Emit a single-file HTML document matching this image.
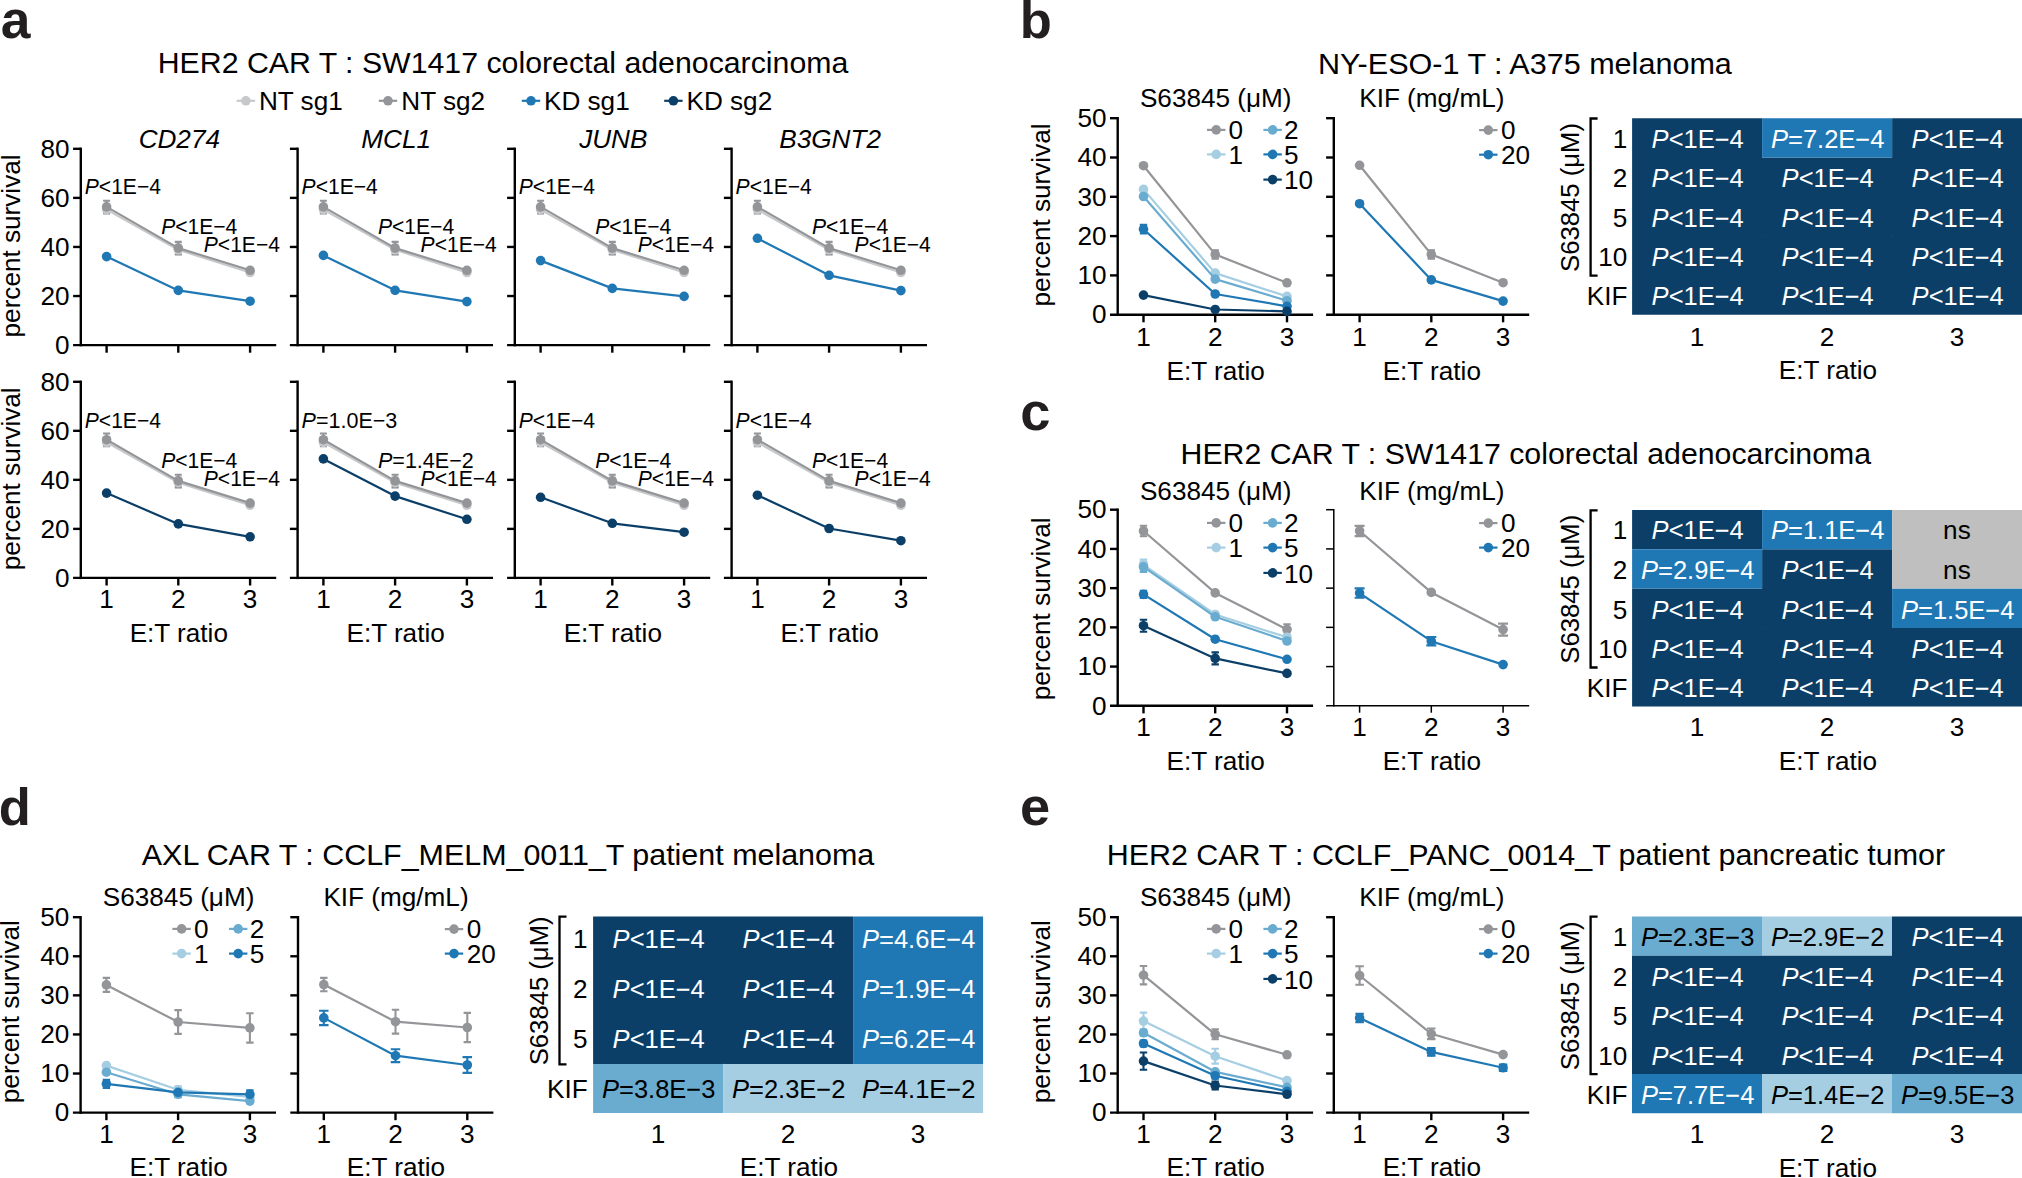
<!DOCTYPE html>
<html lang="en">
<head>
<meta charset="utf-8">
<title>Figure</title>
<style>
html,body{margin:0;padding:0;background:#fff;}
body{width:2022px;height:1178px;overflow:hidden;}
svg{display:block;}
text{font-family:"Liberation Sans",sans-serif;}
</style>
</head>
<body>
<svg width="2022" height="1178" viewBox="0 0 2022 1178" font-family="Liberation Sans, sans-serif" fill="#000">
<rect width="2022" height="1178" fill="#fff"/>
<text transform="translate(0.80 37.50)" font-size="53.4" fill="#231f20" font-weight="bold">a</text>
<text transform="translate(1019.80 37.50)" font-size="52.5" fill="#231f20" font-weight="bold">b</text>
<text transform="translate(1020.30 430.20)" font-size="54.3" fill="#231f20" font-weight="bold">c</text>
<text transform="translate(-1.30 824.60)" font-size="52.5" fill="#231f20" font-weight="bold">d</text>
<text transform="translate(1019.90 824.70)" font-size="54.3" fill="#231f20" font-weight="bold">e</text>
<text transform="translate(503.00 73.40) scale(1.02 1)" font-size="29.7" text-anchor="middle">HER2 CAR T : SW1417 colorectal adenocarcinoma</text>
<line x1="236.70" y1="100.80" x2="255.10" y2="100.80" stroke="#c7c8ca" stroke-width="2.2"/>
<circle cx="245.90" cy="100.80" r="4.8" fill="#c7c8ca"/>
<text transform="translate(259.00 109.60) scale(1.025 1)" font-size="25.5">NT sg1</text>
<line x1="378.80" y1="100.80" x2="397.20" y2="100.80" stroke="#939598" stroke-width="2.2"/>
<circle cx="388.00" cy="100.80" r="4.8" fill="#939598"/>
<text transform="translate(401.30 109.60) scale(1.025 1)" font-size="25.5">NT sg2</text>
<line x1="521.80" y1="100.80" x2="540.20" y2="100.80" stroke="#1f78b4" stroke-width="2.2"/>
<circle cx="531.00" cy="100.80" r="4.8" fill="#1f78b4"/>
<text transform="translate(544.00 109.60) scale(1.025 1)" font-size="25.5">KD sg1</text>
<line x1="664.20" y1="100.80" x2="682.60" y2="100.80" stroke="#0b3f68" stroke-width="2.2"/>
<circle cx="673.40" cy="100.80" r="4.8" fill="#0b3f68"/>
<text transform="translate(686.50 109.60) scale(1.025 1)" font-size="25.5">KD sg2</text>
<line x1="80.80" y1="147.60" x2="80.80" y2="346.30" stroke="#000" stroke-width="2.4"/>
<line x1="73.10" y1="345.10" x2="276.20" y2="345.10" stroke="#000" stroke-width="2.4"/>
<line x1="73.10" y1="148.80" x2="80.80" y2="148.80" stroke="#000" stroke-width="2.4"/>
<line x1="73.10" y1="197.88" x2="80.80" y2="197.88" stroke="#000" stroke-width="2.4"/>
<line x1="73.10" y1="246.95" x2="80.80" y2="246.95" stroke="#000" stroke-width="2.4"/>
<line x1="73.10" y1="296.03" x2="80.80" y2="296.03" stroke="#000" stroke-width="2.4"/>
<line x1="106.60" y1="345.10" x2="106.60" y2="352.70" stroke="#000" stroke-width="2.4"/>
<line x1="178.30" y1="345.10" x2="178.30" y2="352.70" stroke="#000" stroke-width="2.4"/>
<line x1="250.10" y1="345.10" x2="250.10" y2="352.70" stroke="#000" stroke-width="2.4"/>
<text transform="translate(69.60 157.50) scale(1.025 1)" font-size="25.5" text-anchor="end">80</text>
<text transform="translate(69.60 206.57) scale(1.025 1)" font-size="25.5" text-anchor="end">60</text>
<text transform="translate(69.60 255.65) scale(1.025 1)" font-size="25.5" text-anchor="end">40</text>
<text transform="translate(69.60 304.73) scale(1.025 1)" font-size="25.5" text-anchor="end">20</text>
<text transform="translate(69.60 353.80) scale(1.025 1)" font-size="25.5" text-anchor="end">0</text>
<path d="M103.10 205.60H110.10M106.60 205.60V213.60M103.10 213.60H110.10" fill="none" stroke="#c7c8ca" stroke-width="2.1"/>
<path d="M174.80 244.80H181.80M178.30 244.80V254.80M174.80 254.80H181.80" fill="none" stroke="#c7c8ca" stroke-width="2.1"/>
<path d="M103.10 200.70H110.10M106.60 200.70V213.10M103.10 213.10H110.10" fill="none" stroke="#939598" stroke-width="2.1"/>
<path d="M174.80 241.90H181.80M178.30 241.90V254.30M174.80 254.30H181.80" fill="none" stroke="#939598" stroke-width="2.1"/>
<polyline points="106.60,209.60 178.30,249.80 250.10,272.50" fill="none" stroke="#c7c8ca" stroke-width="2.2" stroke-linejoin="round"/>
<circle cx="106.60" cy="209.60" r="4.8" fill="#c7c8ca"/>
<circle cx="178.30" cy="249.80" r="4.8" fill="#c7c8ca"/>
<circle cx="250.10" cy="272.50" r="4.8" fill="#c7c8ca"/>
<polyline points="106.60,206.90 178.30,248.10 250.10,270.30" fill="none" stroke="#939598" stroke-width="2.2" stroke-linejoin="round"/>
<circle cx="106.60" cy="206.90" r="4.8" fill="#939598"/>
<circle cx="178.30" cy="248.10" r="4.8" fill="#939598"/>
<circle cx="250.10" cy="270.30" r="4.8" fill="#939598"/>
<polyline points="106.60,256.60 178.30,290.40 250.10,301.20" fill="none" stroke="#1f78b4" stroke-width="2.2" stroke-linejoin="round"/>
<circle cx="106.60" cy="256.60" r="4.8" fill="#1f78b4"/>
<circle cx="178.30" cy="290.40" r="4.8" fill="#1f78b4"/>
<circle cx="250.10" cy="301.20" r="4.8" fill="#1f78b4"/>
<text transform="translate(84.80 194.00) scale(0.98 1)" font-size="21.5"><tspan font-style="italic">P</tspan>&lt;1E−4</text>
<text transform="translate(161.20 233.80) scale(0.98 1)" font-size="21.5"><tspan font-style="italic">P</tspan>&lt;1E−4</text>
<text transform="translate(203.80 252.00) scale(0.98 1)" font-size="21.5"><tspan font-style="italic">P</tspan>&lt;1E−4</text>
<text transform="translate(179.30 148.00) scale(1.025 1)" font-size="25.5" text-anchor="middle" font-style="italic">CD274</text>
<line x1="297.60" y1="147.60" x2="297.60" y2="346.30" stroke="#000" stroke-width="2.4"/>
<line x1="289.90" y1="345.10" x2="493.00" y2="345.10" stroke="#000" stroke-width="2.4"/>
<line x1="289.90" y1="148.80" x2="297.60" y2="148.80" stroke="#000" stroke-width="2.4"/>
<line x1="289.90" y1="197.88" x2="297.60" y2="197.88" stroke="#000" stroke-width="2.4"/>
<line x1="289.90" y1="246.95" x2="297.60" y2="246.95" stroke="#000" stroke-width="2.4"/>
<line x1="289.90" y1="296.03" x2="297.60" y2="296.03" stroke="#000" stroke-width="2.4"/>
<line x1="323.40" y1="345.10" x2="323.40" y2="352.70" stroke="#000" stroke-width="2.4"/>
<line x1="395.10" y1="345.10" x2="395.10" y2="352.70" stroke="#000" stroke-width="2.4"/>
<line x1="466.90" y1="345.10" x2="466.90" y2="352.70" stroke="#000" stroke-width="2.4"/>
<path d="M319.90 205.60H326.90M323.40 205.60V213.60M319.90 213.60H326.90" fill="none" stroke="#c7c8ca" stroke-width="2.1"/>
<path d="M391.60 244.80H398.60M395.10 244.80V254.80M391.60 254.80H398.60" fill="none" stroke="#c7c8ca" stroke-width="2.1"/>
<path d="M319.90 200.70H326.90M323.40 200.70V213.10M319.90 213.10H326.90" fill="none" stroke="#939598" stroke-width="2.1"/>
<path d="M391.60 241.90H398.60M395.10 241.90V254.30M391.60 254.30H398.60" fill="none" stroke="#939598" stroke-width="2.1"/>
<polyline points="323.40,209.60 395.10,249.80 466.90,272.50" fill="none" stroke="#c7c8ca" stroke-width="2.2" stroke-linejoin="round"/>
<circle cx="323.40" cy="209.60" r="4.8" fill="#c7c8ca"/>
<circle cx="395.10" cy="249.80" r="4.8" fill="#c7c8ca"/>
<circle cx="466.90" cy="272.50" r="4.8" fill="#c7c8ca"/>
<polyline points="323.40,206.90 395.10,248.10 466.90,270.30" fill="none" stroke="#939598" stroke-width="2.2" stroke-linejoin="round"/>
<circle cx="323.40" cy="206.90" r="4.8" fill="#939598"/>
<circle cx="395.10" cy="248.10" r="4.8" fill="#939598"/>
<circle cx="466.90" cy="270.30" r="4.8" fill="#939598"/>
<polyline points="323.40,255.40 395.10,290.30 466.90,301.60" fill="none" stroke="#1f78b4" stroke-width="2.2" stroke-linejoin="round"/>
<circle cx="323.40" cy="255.40" r="4.8" fill="#1f78b4"/>
<circle cx="395.10" cy="290.30" r="4.8" fill="#1f78b4"/>
<circle cx="466.90" cy="301.60" r="4.8" fill="#1f78b4"/>
<text transform="translate(301.60 194.00) scale(0.98 1)" font-size="21.5"><tspan font-style="italic">P</tspan>&lt;1E−4</text>
<text transform="translate(378.00 233.80) scale(0.98 1)" font-size="21.5"><tspan font-style="italic">P</tspan>&lt;1E−4</text>
<text transform="translate(420.60 252.00) scale(0.98 1)" font-size="21.5"><tspan font-style="italic">P</tspan>&lt;1E−4</text>
<text transform="translate(396.10 148.00) scale(1.025 1)" font-size="25.5" text-anchor="middle" font-style="italic">MCL1</text>
<line x1="514.80" y1="147.60" x2="514.80" y2="346.30" stroke="#000" stroke-width="2.4"/>
<line x1="507.10" y1="345.10" x2="710.20" y2="345.10" stroke="#000" stroke-width="2.4"/>
<line x1="507.10" y1="148.80" x2="514.80" y2="148.80" stroke="#000" stroke-width="2.4"/>
<line x1="507.10" y1="197.88" x2="514.80" y2="197.88" stroke="#000" stroke-width="2.4"/>
<line x1="507.10" y1="246.95" x2="514.80" y2="246.95" stroke="#000" stroke-width="2.4"/>
<line x1="507.10" y1="296.03" x2="514.80" y2="296.03" stroke="#000" stroke-width="2.4"/>
<line x1="540.60" y1="345.10" x2="540.60" y2="352.70" stroke="#000" stroke-width="2.4"/>
<line x1="612.30" y1="345.10" x2="612.30" y2="352.70" stroke="#000" stroke-width="2.4"/>
<line x1="684.10" y1="345.10" x2="684.10" y2="352.70" stroke="#000" stroke-width="2.4"/>
<path d="M537.10 205.60H544.10M540.60 205.60V213.60M537.10 213.60H544.10" fill="none" stroke="#c7c8ca" stroke-width="2.1"/>
<path d="M608.80 244.80H615.80M612.30 244.80V254.80M608.80 254.80H615.80" fill="none" stroke="#c7c8ca" stroke-width="2.1"/>
<path d="M537.10 200.70H544.10M540.60 200.70V213.10M537.10 213.10H544.10" fill="none" stroke="#939598" stroke-width="2.1"/>
<path d="M608.80 241.90H615.80M612.30 241.90V254.30M608.80 254.30H615.80" fill="none" stroke="#939598" stroke-width="2.1"/>
<polyline points="540.60,209.60 612.30,249.80 684.10,272.50" fill="none" stroke="#c7c8ca" stroke-width="2.2" stroke-linejoin="round"/>
<circle cx="540.60" cy="209.60" r="4.8" fill="#c7c8ca"/>
<circle cx="612.30" cy="249.80" r="4.8" fill="#c7c8ca"/>
<circle cx="684.10" cy="272.50" r="4.8" fill="#c7c8ca"/>
<polyline points="540.60,206.90 612.30,248.10 684.10,270.30" fill="none" stroke="#939598" stroke-width="2.2" stroke-linejoin="round"/>
<circle cx="540.60" cy="206.90" r="4.8" fill="#939598"/>
<circle cx="612.30" cy="248.10" r="4.8" fill="#939598"/>
<circle cx="684.10" cy="270.30" r="4.8" fill="#939598"/>
<polyline points="540.60,260.60 612.30,288.40 684.10,296.40" fill="none" stroke="#1f78b4" stroke-width="2.2" stroke-linejoin="round"/>
<circle cx="540.60" cy="260.60" r="4.8" fill="#1f78b4"/>
<circle cx="612.30" cy="288.40" r="4.8" fill="#1f78b4"/>
<circle cx="684.10" cy="296.40" r="4.8" fill="#1f78b4"/>
<text transform="translate(518.80 194.00) scale(0.98 1)" font-size="21.5"><tspan font-style="italic">P</tspan>&lt;1E−4</text>
<text transform="translate(595.20 233.80) scale(0.98 1)" font-size="21.5"><tspan font-style="italic">P</tspan>&lt;1E−4</text>
<text transform="translate(637.80 252.00) scale(0.98 1)" font-size="21.5"><tspan font-style="italic">P</tspan>&lt;1E−4</text>
<text transform="translate(613.30 148.00) scale(1.025 1)" font-size="25.5" text-anchor="middle" font-style="italic">JUNB</text>
<line x1="731.60" y1="147.60" x2="731.60" y2="346.30" stroke="#000" stroke-width="2.4"/>
<line x1="723.90" y1="345.10" x2="927.00" y2="345.10" stroke="#000" stroke-width="2.4"/>
<line x1="723.90" y1="148.80" x2="731.60" y2="148.80" stroke="#000" stroke-width="2.4"/>
<line x1="723.90" y1="197.88" x2="731.60" y2="197.88" stroke="#000" stroke-width="2.4"/>
<line x1="723.90" y1="246.95" x2="731.60" y2="246.95" stroke="#000" stroke-width="2.4"/>
<line x1="723.90" y1="296.03" x2="731.60" y2="296.03" stroke="#000" stroke-width="2.4"/>
<line x1="757.40" y1="345.10" x2="757.40" y2="352.70" stroke="#000" stroke-width="2.4"/>
<line x1="829.10" y1="345.10" x2="829.10" y2="352.70" stroke="#000" stroke-width="2.4"/>
<line x1="900.90" y1="345.10" x2="900.90" y2="352.70" stroke="#000" stroke-width="2.4"/>
<path d="M753.90 205.60H760.90M757.40 205.60V213.60M753.90 213.60H760.90" fill="none" stroke="#c7c8ca" stroke-width="2.1"/>
<path d="M825.60 244.80H832.60M829.10 244.80V254.80M825.60 254.80H832.60" fill="none" stroke="#c7c8ca" stroke-width="2.1"/>
<path d="M753.90 200.70H760.90M757.40 200.70V213.10M753.90 213.10H760.90" fill="none" stroke="#939598" stroke-width="2.1"/>
<path d="M825.60 241.90H832.60M829.10 241.90V254.30M825.60 254.30H832.60" fill="none" stroke="#939598" stroke-width="2.1"/>
<polyline points="757.40,209.60 829.10,249.80 900.90,272.50" fill="none" stroke="#c7c8ca" stroke-width="2.2" stroke-linejoin="round"/>
<circle cx="757.40" cy="209.60" r="4.8" fill="#c7c8ca"/>
<circle cx="829.10" cy="249.80" r="4.8" fill="#c7c8ca"/>
<circle cx="900.90" cy="272.50" r="4.8" fill="#c7c8ca"/>
<polyline points="757.40,206.90 829.10,248.10 900.90,270.30" fill="none" stroke="#939598" stroke-width="2.2" stroke-linejoin="round"/>
<circle cx="757.40" cy="206.90" r="4.8" fill="#939598"/>
<circle cx="829.10" cy="248.10" r="4.8" fill="#939598"/>
<circle cx="900.90" cy="270.30" r="4.8" fill="#939598"/>
<polyline points="757.40,238.30 829.10,275.30 900.90,290.60" fill="none" stroke="#1f78b4" stroke-width="2.2" stroke-linejoin="round"/>
<circle cx="757.40" cy="238.30" r="4.8" fill="#1f78b4"/>
<circle cx="829.10" cy="275.30" r="4.8" fill="#1f78b4"/>
<circle cx="900.90" cy="290.60" r="4.8" fill="#1f78b4"/>
<text transform="translate(735.60 194.00) scale(0.98 1)" font-size="21.5"><tspan font-style="italic">P</tspan>&lt;1E−4</text>
<text transform="translate(812.00 233.80) scale(0.98 1)" font-size="21.5"><tspan font-style="italic">P</tspan>&lt;1E−4</text>
<text transform="translate(854.60 252.00) scale(0.98 1)" font-size="21.5"><tspan font-style="italic">P</tspan>&lt;1E−4</text>
<text transform="translate(830.10 148.00) scale(1.025 1)" font-size="25.5" text-anchor="middle" font-style="italic">B3GNT2</text>
<text transform="translate(20.00 245.95) rotate(-90) scale(1.025 1)" font-size="25.5" text-anchor="middle">percent survival</text>
<line x1="80.80" y1="380.60" x2="80.80" y2="579.10" stroke="#000" stroke-width="2.4"/>
<line x1="73.10" y1="577.90" x2="276.20" y2="577.90" stroke="#000" stroke-width="2.4"/>
<line x1="73.10" y1="381.80" x2="80.80" y2="381.80" stroke="#000" stroke-width="2.4"/>
<line x1="73.10" y1="430.82" x2="80.80" y2="430.82" stroke="#000" stroke-width="2.4"/>
<line x1="73.10" y1="479.85" x2="80.80" y2="479.85" stroke="#000" stroke-width="2.4"/>
<line x1="73.10" y1="528.88" x2="80.80" y2="528.88" stroke="#000" stroke-width="2.4"/>
<line x1="106.60" y1="577.90" x2="106.60" y2="585.50" stroke="#000" stroke-width="2.4"/>
<line x1="178.30" y1="577.90" x2="178.30" y2="585.50" stroke="#000" stroke-width="2.4"/>
<line x1="250.10" y1="577.90" x2="250.10" y2="585.50" stroke="#000" stroke-width="2.4"/>
<text transform="translate(69.60 390.50) scale(1.025 1)" font-size="25.5" text-anchor="end">80</text>
<text transform="translate(69.60 439.52) scale(1.025 1)" font-size="25.5" text-anchor="end">60</text>
<text transform="translate(69.60 488.55) scale(1.025 1)" font-size="25.5" text-anchor="end">40</text>
<text transform="translate(69.60 537.58) scale(1.025 1)" font-size="25.5" text-anchor="end">20</text>
<text transform="translate(69.60 586.60) scale(1.025 1)" font-size="25.5" text-anchor="end">0</text>
<text transform="translate(106.60 608.10) scale(1.025 1)" font-size="25.5" text-anchor="middle">1</text>
<text transform="translate(178.30 608.10) scale(1.025 1)" font-size="25.5" text-anchor="middle">2</text>
<text transform="translate(250.10 608.10) scale(1.025 1)" font-size="25.5" text-anchor="middle">3</text>
<path d="M103.10 438.40H110.10M106.60 438.40V446.40M103.10 446.40H110.10" fill="none" stroke="#c7c8ca" stroke-width="2.1"/>
<path d="M174.80 477.60H181.80M178.30 477.60V487.60M174.80 487.60H181.80" fill="none" stroke="#c7c8ca" stroke-width="2.1"/>
<path d="M103.10 433.50H110.10M106.60 433.50V445.90M103.10 445.90H110.10" fill="none" stroke="#939598" stroke-width="2.1"/>
<path d="M174.80 474.70H181.80M178.30 474.70V487.10M174.80 487.10H181.80" fill="none" stroke="#939598" stroke-width="2.1"/>
<polyline points="106.60,442.40 178.30,482.60 250.10,505.30" fill="none" stroke="#c7c8ca" stroke-width="2.2" stroke-linejoin="round"/>
<circle cx="106.60" cy="442.40" r="4.8" fill="#c7c8ca"/>
<circle cx="178.30" cy="482.60" r="4.8" fill="#c7c8ca"/>
<circle cx="250.10" cy="505.30" r="4.8" fill="#c7c8ca"/>
<polyline points="106.60,439.70 178.30,480.90 250.10,503.10" fill="none" stroke="#939598" stroke-width="2.2" stroke-linejoin="round"/>
<circle cx="106.60" cy="439.70" r="4.8" fill="#939598"/>
<circle cx="178.30" cy="480.90" r="4.8" fill="#939598"/>
<circle cx="250.10" cy="503.10" r="4.8" fill="#939598"/>
<polyline points="106.60,493.10 178.30,523.90 250.10,536.80" fill="none" stroke="#0b3f68" stroke-width="2.2" stroke-linejoin="round"/>
<circle cx="106.60" cy="493.10" r="4.8" fill="#0b3f68"/>
<circle cx="178.30" cy="523.90" r="4.8" fill="#0b3f68"/>
<circle cx="250.10" cy="536.80" r="4.8" fill="#0b3f68"/>
<text transform="translate(84.80 427.70) scale(0.98 1)" font-size="21.5"><tspan font-style="italic">P</tspan>&lt;1E−4</text>
<text transform="translate(161.20 467.50) scale(0.98 1)" font-size="21.5"><tspan font-style="italic">P</tspan>&lt;1E−4</text>
<text transform="translate(203.80 485.70) scale(0.98 1)" font-size="21.5"><tspan font-style="italic">P</tspan>&lt;1E−4</text>
<text transform="translate(178.80 641.80) scale(1.025 1)" font-size="25.5" text-anchor="middle">E:T ratio</text>
<line x1="297.60" y1="380.60" x2="297.60" y2="579.10" stroke="#000" stroke-width="2.4"/>
<line x1="289.90" y1="577.90" x2="493.00" y2="577.90" stroke="#000" stroke-width="2.4"/>
<line x1="289.90" y1="381.80" x2="297.60" y2="381.80" stroke="#000" stroke-width="2.4"/>
<line x1="289.90" y1="430.82" x2="297.60" y2="430.82" stroke="#000" stroke-width="2.4"/>
<line x1="289.90" y1="479.85" x2="297.60" y2="479.85" stroke="#000" stroke-width="2.4"/>
<line x1="289.90" y1="528.88" x2="297.60" y2="528.88" stroke="#000" stroke-width="2.4"/>
<line x1="323.40" y1="577.90" x2="323.40" y2="585.50" stroke="#000" stroke-width="2.4"/>
<line x1="395.10" y1="577.90" x2="395.10" y2="585.50" stroke="#000" stroke-width="2.4"/>
<line x1="466.90" y1="577.90" x2="466.90" y2="585.50" stroke="#000" stroke-width="2.4"/>
<text transform="translate(323.40 608.10) scale(1.025 1)" font-size="25.5" text-anchor="middle">1</text>
<text transform="translate(395.10 608.10) scale(1.025 1)" font-size="25.5" text-anchor="middle">2</text>
<text transform="translate(466.90 608.10) scale(1.025 1)" font-size="25.5" text-anchor="middle">3</text>
<path d="M319.90 438.40H326.90M323.40 438.40V446.40M319.90 446.40H326.90" fill="none" stroke="#c7c8ca" stroke-width="2.1"/>
<path d="M391.60 477.60H398.60M395.10 477.60V487.60M391.60 487.60H398.60" fill="none" stroke="#c7c8ca" stroke-width="2.1"/>
<path d="M319.90 433.50H326.90M323.40 433.50V445.90M319.90 445.90H326.90" fill="none" stroke="#939598" stroke-width="2.1"/>
<path d="M391.60 474.70H398.60M395.10 474.70V487.10M391.60 487.10H398.60" fill="none" stroke="#939598" stroke-width="2.1"/>
<polyline points="323.40,442.40 395.10,482.60 466.90,505.30" fill="none" stroke="#c7c8ca" stroke-width="2.2" stroke-linejoin="round"/>
<circle cx="323.40" cy="442.40" r="4.8" fill="#c7c8ca"/>
<circle cx="395.10" cy="482.60" r="4.8" fill="#c7c8ca"/>
<circle cx="466.90" cy="505.30" r="4.8" fill="#c7c8ca"/>
<polyline points="323.40,439.70 395.10,480.90 466.90,503.10" fill="none" stroke="#939598" stroke-width="2.2" stroke-linejoin="round"/>
<circle cx="323.40" cy="439.70" r="4.8" fill="#939598"/>
<circle cx="395.10" cy="480.90" r="4.8" fill="#939598"/>
<circle cx="466.90" cy="503.10" r="4.8" fill="#939598"/>
<polyline points="323.40,458.90 395.10,496.10 466.90,519.30" fill="none" stroke="#0b3f68" stroke-width="2.2" stroke-linejoin="round"/>
<circle cx="323.40" cy="458.90" r="4.8" fill="#0b3f68"/>
<circle cx="395.10" cy="496.10" r="4.8" fill="#0b3f68"/>
<circle cx="466.90" cy="519.30" r="4.8" fill="#0b3f68"/>
<text transform="translate(301.60 427.70)" font-size="21.5"><tspan font-style="italic">P</tspan>=1.0E−3</text>
<text transform="translate(378.00 467.50)" font-size="21.5"><tspan font-style="italic">P</tspan>=1.4E−2</text>
<text transform="translate(420.60 485.70) scale(0.98 1)" font-size="21.5"><tspan font-style="italic">P</tspan>&lt;1E−4</text>
<text transform="translate(395.60 641.80) scale(1.025 1)" font-size="25.5" text-anchor="middle">E:T ratio</text>
<line x1="514.80" y1="380.60" x2="514.80" y2="579.10" stroke="#000" stroke-width="2.4"/>
<line x1="507.10" y1="577.90" x2="710.20" y2="577.90" stroke="#000" stroke-width="2.4"/>
<line x1="507.10" y1="381.80" x2="514.80" y2="381.80" stroke="#000" stroke-width="2.4"/>
<line x1="507.10" y1="430.82" x2="514.80" y2="430.82" stroke="#000" stroke-width="2.4"/>
<line x1="507.10" y1="479.85" x2="514.80" y2="479.85" stroke="#000" stroke-width="2.4"/>
<line x1="507.10" y1="528.88" x2="514.80" y2="528.88" stroke="#000" stroke-width="2.4"/>
<line x1="540.60" y1="577.90" x2="540.60" y2="585.50" stroke="#000" stroke-width="2.4"/>
<line x1="612.30" y1="577.90" x2="612.30" y2="585.50" stroke="#000" stroke-width="2.4"/>
<line x1="684.10" y1="577.90" x2="684.10" y2="585.50" stroke="#000" stroke-width="2.4"/>
<text transform="translate(540.60 608.10) scale(1.025 1)" font-size="25.5" text-anchor="middle">1</text>
<text transform="translate(612.30 608.10) scale(1.025 1)" font-size="25.5" text-anchor="middle">2</text>
<text transform="translate(684.10 608.10) scale(1.025 1)" font-size="25.5" text-anchor="middle">3</text>
<path d="M537.10 438.40H544.10M540.60 438.40V446.40M537.10 446.40H544.10" fill="none" stroke="#c7c8ca" stroke-width="2.1"/>
<path d="M608.80 477.60H615.80M612.30 477.60V487.60M608.80 487.60H615.80" fill="none" stroke="#c7c8ca" stroke-width="2.1"/>
<path d="M537.10 433.50H544.10M540.60 433.50V445.90M537.10 445.90H544.10" fill="none" stroke="#939598" stroke-width="2.1"/>
<path d="M608.80 474.70H615.80M612.30 474.70V487.10M608.80 487.10H615.80" fill="none" stroke="#939598" stroke-width="2.1"/>
<polyline points="540.60,442.40 612.30,482.60 684.10,505.30" fill="none" stroke="#c7c8ca" stroke-width="2.2" stroke-linejoin="round"/>
<circle cx="540.60" cy="442.40" r="4.8" fill="#c7c8ca"/>
<circle cx="612.30" cy="482.60" r="4.8" fill="#c7c8ca"/>
<circle cx="684.10" cy="505.30" r="4.8" fill="#c7c8ca"/>
<polyline points="540.60,439.70 612.30,480.90 684.10,503.10" fill="none" stroke="#939598" stroke-width="2.2" stroke-linejoin="round"/>
<circle cx="540.60" cy="439.70" r="4.8" fill="#939598"/>
<circle cx="612.30" cy="480.90" r="4.8" fill="#939598"/>
<circle cx="684.10" cy="503.10" r="4.8" fill="#939598"/>
<polyline points="540.60,497.30 612.30,523.30 684.10,532.20" fill="none" stroke="#0b3f68" stroke-width="2.2" stroke-linejoin="round"/>
<circle cx="540.60" cy="497.30" r="4.8" fill="#0b3f68"/>
<circle cx="612.30" cy="523.30" r="4.8" fill="#0b3f68"/>
<circle cx="684.10" cy="532.20" r="4.8" fill="#0b3f68"/>
<text transform="translate(518.80 427.70) scale(0.98 1)" font-size="21.5"><tspan font-style="italic">P</tspan>&lt;1E−4</text>
<text transform="translate(595.20 467.50) scale(0.98 1)" font-size="21.5"><tspan font-style="italic">P</tspan>&lt;1E−4</text>
<text transform="translate(637.80 485.70) scale(0.98 1)" font-size="21.5"><tspan font-style="italic">P</tspan>&lt;1E−4</text>
<text transform="translate(612.80 641.80) scale(1.025 1)" font-size="25.5" text-anchor="middle">E:T ratio</text>
<line x1="731.60" y1="380.60" x2="731.60" y2="579.10" stroke="#000" stroke-width="2.4"/>
<line x1="723.90" y1="577.90" x2="927.00" y2="577.90" stroke="#000" stroke-width="2.4"/>
<line x1="723.90" y1="381.80" x2="731.60" y2="381.80" stroke="#000" stroke-width="2.4"/>
<line x1="723.90" y1="430.82" x2="731.60" y2="430.82" stroke="#000" stroke-width="2.4"/>
<line x1="723.90" y1="479.85" x2="731.60" y2="479.85" stroke="#000" stroke-width="2.4"/>
<line x1="723.90" y1="528.88" x2="731.60" y2="528.88" stroke="#000" stroke-width="2.4"/>
<line x1="757.40" y1="577.90" x2="757.40" y2="585.50" stroke="#000" stroke-width="2.4"/>
<line x1="829.10" y1="577.90" x2="829.10" y2="585.50" stroke="#000" stroke-width="2.4"/>
<line x1="900.90" y1="577.90" x2="900.90" y2="585.50" stroke="#000" stroke-width="2.4"/>
<text transform="translate(757.40 608.10) scale(1.025 1)" font-size="25.5" text-anchor="middle">1</text>
<text transform="translate(829.10 608.10) scale(1.025 1)" font-size="25.5" text-anchor="middle">2</text>
<text transform="translate(900.90 608.10) scale(1.025 1)" font-size="25.5" text-anchor="middle">3</text>
<path d="M753.90 438.40H760.90M757.40 438.40V446.40M753.90 446.40H760.90" fill="none" stroke="#c7c8ca" stroke-width="2.1"/>
<path d="M825.60 477.60H832.60M829.10 477.60V487.60M825.60 487.60H832.60" fill="none" stroke="#c7c8ca" stroke-width="2.1"/>
<path d="M753.90 433.50H760.90M757.40 433.50V445.90M753.90 445.90H760.90" fill="none" stroke="#939598" stroke-width="2.1"/>
<path d="M825.60 474.70H832.60M829.10 474.70V487.10M825.60 487.10H832.60" fill="none" stroke="#939598" stroke-width="2.1"/>
<polyline points="757.40,442.40 829.10,482.60 900.90,505.30" fill="none" stroke="#c7c8ca" stroke-width="2.2" stroke-linejoin="round"/>
<circle cx="757.40" cy="442.40" r="4.8" fill="#c7c8ca"/>
<circle cx="829.10" cy="482.60" r="4.8" fill="#c7c8ca"/>
<circle cx="900.90" cy="505.30" r="4.8" fill="#c7c8ca"/>
<polyline points="757.40,439.70 829.10,480.90 900.90,503.10" fill="none" stroke="#939598" stroke-width="2.2" stroke-linejoin="round"/>
<circle cx="757.40" cy="439.70" r="4.8" fill="#939598"/>
<circle cx="829.10" cy="480.90" r="4.8" fill="#939598"/>
<circle cx="900.90" cy="503.10" r="4.8" fill="#939598"/>
<polyline points="757.40,495.20 829.10,528.50 900.90,540.70" fill="none" stroke="#0b3f68" stroke-width="2.2" stroke-linejoin="round"/>
<circle cx="757.40" cy="495.20" r="4.8" fill="#0b3f68"/>
<circle cx="829.10" cy="528.50" r="4.8" fill="#0b3f68"/>
<circle cx="900.90" cy="540.70" r="4.8" fill="#0b3f68"/>
<text transform="translate(735.60 427.70) scale(0.98 1)" font-size="21.5"><tspan font-style="italic">P</tspan>&lt;1E−4</text>
<text transform="translate(812.00 467.50) scale(0.98 1)" font-size="21.5"><tspan font-style="italic">P</tspan>&lt;1E−4</text>
<text transform="translate(854.60 485.70) scale(0.98 1)" font-size="21.5"><tspan font-style="italic">P</tspan>&lt;1E−4</text>
<text transform="translate(829.60 641.80) scale(1.025 1)" font-size="25.5" text-anchor="middle">E:T ratio</text>
<text transform="translate(20.00 478.85) rotate(-90) scale(1.025 1)" font-size="25.5" text-anchor="middle">percent survival</text>
<text transform="translate(1524.90 73.70) scale(1.02918 1)" font-size="29.7" text-anchor="middle">NY-ESO-1 T : A375 melanoma</text>
<line x1="1117.70" y1="117.00" x2="1117.70" y2="315.90" stroke="#000" stroke-width="2.4"/>
<line x1="1110.00" y1="314.70" x2="1313.10" y2="314.70" stroke="#000" stroke-width="2.4"/>
<line x1="1110.00" y1="118.20" x2="1117.70" y2="118.20" stroke="#000" stroke-width="2.4"/>
<line x1="1110.00" y1="157.50" x2="1117.70" y2="157.50" stroke="#000" stroke-width="2.4"/>
<line x1="1110.00" y1="196.80" x2="1117.70" y2="196.80" stroke="#000" stroke-width="2.4"/>
<line x1="1110.00" y1="236.10" x2="1117.70" y2="236.10" stroke="#000" stroke-width="2.4"/>
<line x1="1110.00" y1="275.40" x2="1117.70" y2="275.40" stroke="#000" stroke-width="2.4"/>
<line x1="1143.50" y1="314.70" x2="1143.50" y2="322.30" stroke="#000" stroke-width="2.4"/>
<line x1="1215.20" y1="314.70" x2="1215.20" y2="322.30" stroke="#000" stroke-width="2.4"/>
<line x1="1287.00" y1="314.70" x2="1287.00" y2="322.30" stroke="#000" stroke-width="2.4"/>
<text transform="translate(1106.50 126.90) scale(1.025 1)" font-size="25.5" text-anchor="end">50</text>
<text transform="translate(1106.50 166.20) scale(1.025 1)" font-size="25.5" text-anchor="end">40</text>
<text transform="translate(1106.50 205.50) scale(1.025 1)" font-size="25.5" text-anchor="end">30</text>
<text transform="translate(1106.50 244.80) scale(1.025 1)" font-size="25.5" text-anchor="end">20</text>
<text transform="translate(1106.50 284.10) scale(1.025 1)" font-size="25.5" text-anchor="end">10</text>
<text transform="translate(1106.50 323.40) scale(1.025 1)" font-size="25.5" text-anchor="end">0</text>
<text transform="translate(1143.50 345.70) scale(1.025 1)" font-size="25.5" text-anchor="middle">1</text>
<text transform="translate(1215.20 345.70) scale(1.025 1)" font-size="25.5" text-anchor="middle">2</text>
<text transform="translate(1287.00 345.70) scale(1.025 1)" font-size="25.5" text-anchor="middle">3</text>
<line x1="1333.80" y1="117.00" x2="1333.80" y2="315.90" stroke="#000" stroke-width="2.4"/>
<line x1="1326.10" y1="314.70" x2="1529.20" y2="314.70" stroke="#000" stroke-width="2.4"/>
<line x1="1326.10" y1="118.20" x2="1333.80" y2="118.20" stroke="#000" stroke-width="2.4"/>
<line x1="1326.10" y1="157.50" x2="1333.80" y2="157.50" stroke="#000" stroke-width="2.4"/>
<line x1="1326.10" y1="196.80" x2="1333.80" y2="196.80" stroke="#000" stroke-width="2.4"/>
<line x1="1326.10" y1="236.10" x2="1333.80" y2="236.10" stroke="#000" stroke-width="2.4"/>
<line x1="1326.10" y1="275.40" x2="1333.80" y2="275.40" stroke="#000" stroke-width="2.4"/>
<line x1="1359.60" y1="314.70" x2="1359.60" y2="322.30" stroke="#000" stroke-width="2.4"/>
<line x1="1431.30" y1="314.70" x2="1431.30" y2="322.30" stroke="#000" stroke-width="2.4"/>
<line x1="1503.10" y1="314.70" x2="1503.10" y2="322.30" stroke="#000" stroke-width="2.4"/>
<text transform="translate(1359.60 345.70) scale(1.025 1)" font-size="25.5" text-anchor="middle">1</text>
<text transform="translate(1431.30 345.70) scale(1.025 1)" font-size="25.5" text-anchor="middle">2</text>
<text transform="translate(1503.10 345.70) scale(1.025 1)" font-size="25.5" text-anchor="middle">3</text>
<text transform="translate(1049.70 214.95) rotate(-90) scale(1.025 1)" font-size="25.5" text-anchor="middle">percent survival</text>
<text transform="translate(1215.70 107.20) scale(1.025 1)" font-size="25.5" text-anchor="middle">S63845 (μM)</text>
<text transform="translate(1431.80 107.20) scale(1.025 1)" font-size="25.5" text-anchor="middle">KIF (mg/mL)</text>
<text transform="translate(1215.70 379.60) scale(1.025 1)" font-size="25.5" text-anchor="middle">E:T ratio</text>
<text transform="translate(1431.80 379.60) scale(1.025 1)" font-size="25.5" text-anchor="middle">E:T ratio</text>
<path d="M1211.50 250.20H1218.90M1215.20 250.20V258.60M1211.50 258.60H1218.90" fill="none" stroke="#939598" stroke-width="2.1"/>
<path d="M1139.80 224.90H1147.20M1143.50 224.90V233.50M1139.80 233.50H1147.20" fill="none" stroke="#1f78b4" stroke-width="2.1"/>
<polyline points="1143.50,165.70 1215.20,254.40 1287.00,282.80" fill="none" stroke="#939598" stroke-width="2.2" stroke-linejoin="round"/>
<circle cx="1143.50" cy="165.70" r="4.8" fill="#939598"/>
<circle cx="1215.20" cy="254.40" r="4.8" fill="#939598"/>
<circle cx="1287.00" cy="282.80" r="4.8" fill="#939598"/>
<polyline points="1143.50,189.40 1215.20,273.10 1287.00,296.40" fill="none" stroke="#a6cee3" stroke-width="2.2" stroke-linejoin="round"/>
<circle cx="1143.50" cy="189.40" r="4.8" fill="#a6cee3"/>
<circle cx="1215.20" cy="273.10" r="4.8" fill="#a6cee3"/>
<circle cx="1287.00" cy="296.40" r="4.8" fill="#a6cee3"/>
<polyline points="1143.50,196.50 1215.20,279.10 1287.00,300.70" fill="none" stroke="#6aabd0" stroke-width="2.2" stroke-linejoin="round"/>
<circle cx="1143.50" cy="196.50" r="4.8" fill="#6aabd0"/>
<circle cx="1215.20" cy="279.10" r="4.8" fill="#6aabd0"/>
<circle cx="1287.00" cy="300.70" r="4.8" fill="#6aabd0"/>
<polyline points="1143.50,229.20 1215.20,294.00 1287.00,306.30" fill="none" stroke="#1f78b4" stroke-width="2.2" stroke-linejoin="round"/>
<circle cx="1143.50" cy="229.20" r="4.8" fill="#1f78b4"/>
<circle cx="1215.20" cy="294.00" r="4.8" fill="#1f78b4"/>
<circle cx="1287.00" cy="306.30" r="4.8" fill="#1f78b4"/>
<polyline points="1143.50,295.10 1215.20,309.50 1287.00,311.40" fill="none" stroke="#0b3f68" stroke-width="2.2" stroke-linejoin="round"/>
<circle cx="1143.50" cy="295.10" r="4.8" fill="#0b3f68"/>
<circle cx="1215.20" cy="309.50" r="4.8" fill="#0b3f68"/>
<circle cx="1287.00" cy="311.40" r="4.8" fill="#0b3f68"/>
<path d="M1427.60 250.20H1435.00M1431.30 250.20V258.60M1427.60 258.60H1435.00" fill="none" stroke="#939598" stroke-width="2.1"/>
<path d="M1355.90 201.70H1363.30M1359.60 201.70V205.70M1355.90 205.70H1363.30" fill="none" stroke="#1f78b4" stroke-width="2.1"/>
<polyline points="1359.60,165.30 1431.30,254.40 1503.10,282.70" fill="none" stroke="#939598" stroke-width="2.2" stroke-linejoin="round"/>
<circle cx="1359.60" cy="165.30" r="4.8" fill="#939598"/>
<circle cx="1431.30" cy="254.40" r="4.8" fill="#939598"/>
<circle cx="1503.10" cy="282.70" r="4.8" fill="#939598"/>
<polyline points="1359.60,203.70 1431.30,279.90 1503.10,301.10" fill="none" stroke="#1f78b4" stroke-width="2.2" stroke-linejoin="round"/>
<circle cx="1359.60" cy="203.70" r="4.8" fill="#1f78b4"/>
<circle cx="1431.30" cy="279.90" r="4.8" fill="#1f78b4"/>
<circle cx="1503.10" cy="301.10" r="4.8" fill="#1f78b4"/>
<line x1="1207.00" y1="129.90" x2="1225.40" y2="129.90" stroke="#939598" stroke-width="2.2"/>
<circle cx="1216.20" cy="129.90" r="4.8" fill="#939598"/>
<text transform="translate(1228.50 138.60) scale(1.025 1)" font-size="25.5">0</text>
<line x1="1207.00" y1="154.40" x2="1225.40" y2="154.40" stroke="#a6cee3" stroke-width="2.2"/>
<circle cx="1216.20" cy="154.40" r="4.8" fill="#a6cee3"/>
<text transform="translate(1228.50 163.60) scale(1.025 1)" font-size="25.5">1</text>
<line x1="1263.40" y1="129.90" x2="1281.80" y2="129.90" stroke="#6aabd0" stroke-width="2.2"/>
<circle cx="1272.60" cy="129.90" r="4.8" fill="#6aabd0"/>
<text transform="translate(1284.00 138.60) scale(1.025 1)" font-size="25.5">2</text>
<line x1="1263.40" y1="154.40" x2="1281.80" y2="154.40" stroke="#1f78b4" stroke-width="2.2"/>
<circle cx="1272.60" cy="154.40" r="4.8" fill="#1f78b4"/>
<text transform="translate(1284.00 163.60) scale(1.025 1)" font-size="25.5">5</text>
<line x1="1263.40" y1="179.60" x2="1281.80" y2="179.60" stroke="#0b3f68" stroke-width="2.2"/>
<circle cx="1272.60" cy="179.60" r="4.8" fill="#0b3f68"/>
<text transform="translate(1284.00 189.40) scale(1.025 1)" font-size="25.5">10</text>
<line x1="1479.10" y1="130.10" x2="1497.50" y2="130.10" stroke="#939598" stroke-width="2.2"/>
<circle cx="1488.30" cy="130.10" r="4.8" fill="#939598"/>
<text transform="translate(1501.00 138.60) scale(1.025 1)" font-size="25.5">0</text>
<line x1="1479.10" y1="154.70" x2="1497.50" y2="154.70" stroke="#1f78b4" stroke-width="2.2"/>
<circle cx="1488.30" cy="154.70" r="4.8" fill="#1f78b4"/>
<text transform="translate(1501.00 163.60) scale(1.025 1)" font-size="25.5">20</text>
<path d="M1632.1 118.2H1762.1V157.5H1632.1ZM1892.1 118.2H2022.1V157.5H1892.1ZM1632.1 157.5H1762.1V196.8H1632.1ZM1762.1 157.5H1892.1V196.8H1762.1ZM1892.1 157.5H2022.1V196.8H1892.1ZM1632.1 196.8H1762.1V236.1H1632.1ZM1762.1 196.8H1892.1V236.1H1762.1ZM1892.1 196.8H2022.1V236.1H1892.1ZM1632.1 236.1H1762.1V275.4H1632.1ZM1762.1 236.1H1892.1V275.4H1762.1ZM1892.1 236.1H2022.1V275.4H1892.1ZM1632.1 275.4H1762.1V314.7H1632.1ZM1762.1 275.4H1892.1V314.7H1762.1ZM1892.1 275.4H2022.1V314.7H1892.1Z" fill="#0b3f68"/>
<path d="M1762.1 118.2H1892.1V157.5H1762.1Z" fill="#1f78b4"/>
<text transform="translate(1697.70 147.55)" font-size="25.5" text-anchor="middle" fill="#fff"><tspan font-style="italic">P</tspan>&lt;1E−4</text>
<text transform="translate(1827.70 147.55)" font-size="25.5" text-anchor="middle" fill="#fff"><tspan font-style="italic">P</tspan>=7.2E−4</text>
<text transform="translate(1957.70 147.55)" font-size="25.5" text-anchor="middle" fill="#fff"><tspan font-style="italic">P</tspan>&lt;1E−4</text>
<text transform="translate(1627.40 147.55) scale(1.025 1)" font-size="25.5" text-anchor="end">1</text>
<text transform="translate(1697.70 187.45)" font-size="25.5" text-anchor="middle" fill="#fff"><tspan font-style="italic">P</tspan>&lt;1E−4</text>
<text transform="translate(1827.70 187.45)" font-size="25.5" text-anchor="middle" fill="#fff"><tspan font-style="italic">P</tspan>&lt;1E−4</text>
<text transform="translate(1957.70 187.45)" font-size="25.5" text-anchor="middle" fill="#fff"><tspan font-style="italic">P</tspan>&lt;1E−4</text>
<text transform="translate(1627.40 187.45) scale(1.025 1)" font-size="25.5" text-anchor="end">2</text>
<text transform="translate(1697.70 226.75)" font-size="25.5" text-anchor="middle" fill="#fff"><tspan font-style="italic">P</tspan>&lt;1E−4</text>
<text transform="translate(1827.70 226.75)" font-size="25.5" text-anchor="middle" fill="#fff"><tspan font-style="italic">P</tspan>&lt;1E−4</text>
<text transform="translate(1957.70 226.75)" font-size="25.5" text-anchor="middle" fill="#fff"><tspan font-style="italic">P</tspan>&lt;1E−4</text>
<text transform="translate(1627.40 226.75) scale(1.025 1)" font-size="25.5" text-anchor="end">5</text>
<text transform="translate(1697.70 266.05)" font-size="25.5" text-anchor="middle" fill="#fff"><tspan font-style="italic">P</tspan>&lt;1E−4</text>
<text transform="translate(1827.70 266.05)" font-size="25.5" text-anchor="middle" fill="#fff"><tspan font-style="italic">P</tspan>&lt;1E−4</text>
<text transform="translate(1957.70 266.05)" font-size="25.5" text-anchor="middle" fill="#fff"><tspan font-style="italic">P</tspan>&lt;1E−4</text>
<text transform="translate(1627.40 266.05) scale(1.025 1)" font-size="25.5" text-anchor="end">10</text>
<text transform="translate(1697.70 305.35)" font-size="25.5" text-anchor="middle" fill="#fff"><tspan font-style="italic">P</tspan>&lt;1E−4</text>
<text transform="translate(1827.70 305.35)" font-size="25.5" text-anchor="middle" fill="#fff"><tspan font-style="italic">P</tspan>&lt;1E−4</text>
<text transform="translate(1957.70 305.35)" font-size="25.5" text-anchor="middle" fill="#fff"><tspan font-style="italic">P</tspan>&lt;1E−4</text>
<text transform="translate(1627.40 305.35) scale(1.025 1)" font-size="25.5" text-anchor="end">KIF</text>
<polyline points="1597.60,118.50 1590.60,118.50 1590.60,275.70 1597.60,275.70" fill="none" stroke="#000" stroke-width="2.3"/>
<text transform="translate(1578.60 197.45) rotate(-90) scale(1.0065499999999998 1)" font-size="25.5" text-anchor="middle">S63845 (μM)</text>
<text transform="translate(1697.10 345.90) scale(1.025 1)" font-size="25.5" text-anchor="middle">1</text>
<text transform="translate(1827.10 345.90) scale(1.025 1)" font-size="25.5" text-anchor="middle">2</text>
<text transform="translate(1957.10 345.90) scale(1.025 1)" font-size="25.5" text-anchor="middle">3</text>
<text transform="translate(1827.90 379.40) scale(1.025 1)" font-size="25.5" text-anchor="middle">E:T ratio</text>
<text transform="translate(1525.80 464.30) scale(1.02 1)" font-size="29.7" text-anchor="middle">HER2 CAR T : SW1417 colorectal adenocarcinoma</text>
<line x1="1117.70" y1="508.50" x2="1117.70" y2="707.00" stroke="#000" stroke-width="2.4"/>
<line x1="1110.00" y1="705.80" x2="1313.10" y2="705.80" stroke="#000" stroke-width="2.4"/>
<line x1="1110.00" y1="509.70" x2="1117.70" y2="509.70" stroke="#000" stroke-width="2.4"/>
<line x1="1110.00" y1="548.92" x2="1117.70" y2="548.92" stroke="#000" stroke-width="2.4"/>
<line x1="1110.00" y1="588.14" x2="1117.70" y2="588.14" stroke="#000" stroke-width="2.4"/>
<line x1="1110.00" y1="627.36" x2="1117.70" y2="627.36" stroke="#000" stroke-width="2.4"/>
<line x1="1110.00" y1="666.58" x2="1117.70" y2="666.58" stroke="#000" stroke-width="2.4"/>
<line x1="1143.50" y1="705.80" x2="1143.50" y2="713.40" stroke="#000" stroke-width="2.4"/>
<line x1="1215.20" y1="705.80" x2="1215.20" y2="713.40" stroke="#000" stroke-width="2.4"/>
<line x1="1287.00" y1="705.80" x2="1287.00" y2="713.40" stroke="#000" stroke-width="2.4"/>
<text transform="translate(1106.50 518.40) scale(1.025 1)" font-size="25.5" text-anchor="end">50</text>
<text transform="translate(1106.50 557.62) scale(1.025 1)" font-size="25.5" text-anchor="end">40</text>
<text transform="translate(1106.50 596.84) scale(1.025 1)" font-size="25.5" text-anchor="end">30</text>
<text transform="translate(1106.50 636.06) scale(1.025 1)" font-size="25.5" text-anchor="end">20</text>
<text transform="translate(1106.50 675.28) scale(1.025 1)" font-size="25.5" text-anchor="end">10</text>
<text transform="translate(1106.50 714.50) scale(1.025 1)" font-size="25.5" text-anchor="end">0</text>
<text transform="translate(1143.50 735.80) scale(1.025 1)" font-size="25.5" text-anchor="middle">1</text>
<text transform="translate(1215.20 735.80) scale(1.025 1)" font-size="25.5" text-anchor="middle">2</text>
<text transform="translate(1287.00 735.80) scale(1.025 1)" font-size="25.5" text-anchor="middle">3</text>
<line x1="1333.80" y1="508.95" x2="1333.80" y2="706.55" stroke="#000" stroke-width="1.5"/>
<line x1="1326.10" y1="705.80" x2="1529.20" y2="705.80" stroke="#000" stroke-width="1.5"/>
<line x1="1326.10" y1="509.70" x2="1333.80" y2="509.70" stroke="#000" stroke-width="1.5"/>
<line x1="1326.10" y1="548.92" x2="1333.80" y2="548.92" stroke="#000" stroke-width="1.5"/>
<line x1="1326.10" y1="588.14" x2="1333.80" y2="588.14" stroke="#000" stroke-width="1.5"/>
<line x1="1326.10" y1="627.36" x2="1333.80" y2="627.36" stroke="#000" stroke-width="1.5"/>
<line x1="1326.10" y1="666.58" x2="1333.80" y2="666.58" stroke="#000" stroke-width="1.5"/>
<line x1="1359.60" y1="705.80" x2="1359.60" y2="712.70" stroke="#000" stroke-width="1.5"/>
<line x1="1431.30" y1="705.80" x2="1431.30" y2="712.70" stroke="#000" stroke-width="1.5"/>
<line x1="1503.10" y1="705.80" x2="1503.10" y2="712.70" stroke="#000" stroke-width="1.5"/>
<text transform="translate(1359.60 735.80) scale(1.025 1)" font-size="25.5" text-anchor="middle">1</text>
<text transform="translate(1431.30 735.80) scale(1.025 1)" font-size="25.5" text-anchor="middle">2</text>
<text transform="translate(1503.10 735.80) scale(1.025 1)" font-size="25.5" text-anchor="middle">3</text>
<text transform="translate(1049.70 608.85) rotate(-90) scale(1.025 1)" font-size="25.5" text-anchor="middle">percent survival</text>
<text transform="translate(1215.70 500.40) scale(1.025 1)" font-size="25.5" text-anchor="middle">S63845 (μM)</text>
<text transform="translate(1431.80 500.40) scale(1.025 1)" font-size="25.5" text-anchor="middle">KIF (mg/mL)</text>
<text transform="translate(1215.70 769.70) scale(1.025 1)" font-size="25.5" text-anchor="middle">E:T ratio</text>
<text transform="translate(1431.80 769.70) scale(1.025 1)" font-size="25.5" text-anchor="middle">E:T ratio</text>
<path d="M1139.80 525.80H1147.20M1143.50 525.80V536.20M1139.80 536.20H1147.20" fill="none" stroke="#939598" stroke-width="2.1"/>
<path d="M1283.30 624.30H1290.70M1287.00 624.30V634.70M1283.30 634.70H1290.70" fill="none" stroke="#939598" stroke-width="2.1"/>
<path d="M1139.80 559.50H1147.20M1143.50 559.50V570.50M1139.80 570.50H1147.20" fill="none" stroke="#a6cee3" stroke-width="2.1"/>
<path d="M1139.80 561.90H1147.20M1143.50 561.90V571.90M1139.80 571.90H1147.20" fill="none" stroke="#6aabd0" stroke-width="2.1"/>
<path d="M1139.80 590.90H1147.20M1143.50 590.90V597.90M1139.80 597.90H1147.20" fill="none" stroke="#1f78b4" stroke-width="2.1"/>
<path d="M1139.80 619.70H1147.20M1143.50 619.70V631.70M1139.80 631.70H1147.20" fill="none" stroke="#0b3f68" stroke-width="2.1"/>
<path d="M1211.50 652.40H1218.90M1215.20 652.40V664.40M1211.50 664.40H1218.90" fill="none" stroke="#0b3f68" stroke-width="2.1"/>
<polyline points="1143.50,531.00 1215.20,592.90 1287.00,629.50" fill="none" stroke="#939598" stroke-width="2.2" stroke-linejoin="round"/>
<circle cx="1143.50" cy="531.00" r="4.8" fill="#939598"/>
<circle cx="1215.20" cy="592.90" r="4.8" fill="#939598"/>
<circle cx="1287.00" cy="629.50" r="4.8" fill="#939598"/>
<polyline points="1143.50,565.00 1215.20,614.50 1287.00,637.30" fill="none" stroke="#a6cee3" stroke-width="2.2" stroke-linejoin="round"/>
<circle cx="1143.50" cy="565.00" r="4.8" fill="#a6cee3"/>
<circle cx="1215.20" cy="614.50" r="4.8" fill="#a6cee3"/>
<circle cx="1287.00" cy="637.30" r="4.8" fill="#a6cee3"/>
<polyline points="1143.50,566.90 1215.20,616.80 1287.00,641.00" fill="none" stroke="#6aabd0" stroke-width="2.2" stroke-linejoin="round"/>
<circle cx="1143.50" cy="566.90" r="4.8" fill="#6aabd0"/>
<circle cx="1215.20" cy="616.80" r="4.8" fill="#6aabd0"/>
<circle cx="1287.00" cy="641.00" r="4.8" fill="#6aabd0"/>
<polyline points="1143.50,594.40 1215.20,639.20 1287.00,659.30" fill="none" stroke="#1f78b4" stroke-width="2.2" stroke-linejoin="round"/>
<circle cx="1143.50" cy="594.40" r="4.8" fill="#1f78b4"/>
<circle cx="1215.20" cy="639.20" r="4.8" fill="#1f78b4"/>
<circle cx="1287.00" cy="659.30" r="4.8" fill="#1f78b4"/>
<polyline points="1143.50,625.70 1215.20,658.40 1287.00,673.40" fill="none" stroke="#0b3f68" stroke-width="2.2" stroke-linejoin="round"/>
<circle cx="1143.50" cy="625.70" r="4.8" fill="#0b3f68"/>
<circle cx="1215.20" cy="658.40" r="4.8" fill="#0b3f68"/>
<circle cx="1287.00" cy="673.40" r="4.8" fill="#0b3f68"/>
<path d="M1354.60 525.90H1364.60M1359.60 525.90V536.10M1354.60 536.10H1364.60" fill="none" stroke="#939598" stroke-width="2.1"/>
<path d="M1498.10 623.60H1508.10M1503.10 623.60V635.60M1498.10 635.60H1508.10" fill="none" stroke="#939598" stroke-width="2.1"/>
<path d="M1354.60 588.40H1364.60M1359.60 588.40V597.80M1354.60 597.80H1364.60" fill="none" stroke="#1f78b4" stroke-width="2.1"/>
<path d="M1426.30 637.00H1436.30M1431.30 637.00V645.40M1426.30 645.40H1436.30" fill="none" stroke="#1f78b4" stroke-width="2.1"/>
<polyline points="1359.60,531.00 1431.30,592.40 1503.10,629.60" fill="none" stroke="#939598" stroke-width="2.2" stroke-linejoin="round"/>
<circle cx="1359.60" cy="531.00" r="4.8" fill="#939598"/>
<circle cx="1431.30" cy="592.40" r="4.8" fill="#939598"/>
<circle cx="1503.10" cy="629.60" r="4.8" fill="#939598"/>
<polyline points="1359.60,593.10 1431.30,641.20 1503.10,664.60" fill="none" stroke="#1f78b4" stroke-width="2.2" stroke-linejoin="round"/>
<circle cx="1359.60" cy="593.10" r="4.8" fill="#1f78b4"/>
<circle cx="1431.30" cy="641.20" r="4.8" fill="#1f78b4"/>
<circle cx="1503.10" cy="664.60" r="4.8" fill="#1f78b4"/>
<line x1="1207.00" y1="522.90" x2="1225.40" y2="522.90" stroke="#939598" stroke-width="2.2"/>
<circle cx="1216.20" cy="522.90" r="4.8" fill="#939598"/>
<text transform="translate(1228.50 531.70) scale(1.025 1)" font-size="25.5">0</text>
<line x1="1207.00" y1="547.60" x2="1225.40" y2="547.60" stroke="#a6cee3" stroke-width="2.2"/>
<circle cx="1216.20" cy="547.60" r="4.8" fill="#a6cee3"/>
<text transform="translate(1228.50 556.80) scale(1.025 1)" font-size="25.5">1</text>
<line x1="1263.40" y1="522.90" x2="1281.80" y2="522.90" stroke="#6aabd0" stroke-width="2.2"/>
<circle cx="1272.60" cy="522.90" r="4.8" fill="#6aabd0"/>
<text transform="translate(1284.00 531.70) scale(1.025 1)" font-size="25.5">2</text>
<line x1="1263.40" y1="547.60" x2="1281.80" y2="547.60" stroke="#1f78b4" stroke-width="2.2"/>
<circle cx="1272.60" cy="547.60" r="4.8" fill="#1f78b4"/>
<text transform="translate(1284.00 556.80) scale(1.025 1)" font-size="25.5">5</text>
<line x1="1263.40" y1="572.90" x2="1281.80" y2="572.90" stroke="#0b3f68" stroke-width="2.2"/>
<circle cx="1272.60" cy="572.90" r="4.8" fill="#0b3f68"/>
<text transform="translate(1284.00 582.60) scale(1.025 1)" font-size="25.5">10</text>
<line x1="1479.10" y1="523.10" x2="1497.50" y2="523.10" stroke="#939598" stroke-width="2.2"/>
<circle cx="1488.30" cy="523.10" r="4.8" fill="#939598"/>
<text transform="translate(1501.00 531.60) scale(1.025 1)" font-size="25.5">0</text>
<line x1="1479.10" y1="547.60" x2="1497.50" y2="547.60" stroke="#1f78b4" stroke-width="2.2"/>
<circle cx="1488.30" cy="547.60" r="4.8" fill="#1f78b4"/>
<text transform="translate(1501.00 556.80) scale(1.025 1)" font-size="25.5">20</text>
<path d="M1632.1 510.0H1762.1V549.3H1632.1ZM1762.1 549.3H1892.1V588.6H1762.1ZM1632.1 588.6H1762.1V627.9H1632.1ZM1762.1 588.6H1892.1V627.9H1762.1ZM1632.1 627.9H1762.1V667.2H1632.1ZM1762.1 627.9H1892.1V667.2H1762.1ZM1892.1 627.9H2022.1V667.2H1892.1ZM1632.1 667.2H1762.1V706.5H1632.1ZM1762.1 667.2H1892.1V706.5H1762.1ZM1892.1 667.2H2022.1V706.5H1892.1Z" fill="#0b3f68"/>
<path d="M1762.1 510.0H1892.1V549.3H1762.1ZM1632.1 549.3H1762.1V588.6H1632.1ZM1892.1 588.6H2022.1V627.9H1892.1Z" fill="#1f78b4"/>
<path d="M1892.1 510.0H2022.1V549.3H1892.1ZM1892.1 549.3H2022.1V588.6H1892.1Z" fill="#bfbfbf"/>
<text transform="translate(1697.70 539.35)" font-size="25.5" text-anchor="middle" fill="#fff"><tspan font-style="italic">P</tspan>&lt;1E−4</text>
<text transform="translate(1827.70 539.35)" font-size="25.5" text-anchor="middle" fill="#fff"><tspan font-style="italic">P</tspan>=1.1E−4</text>
<text transform="translate(1956.90 539.35) scale(1.025 1)" font-size="25.5" text-anchor="middle">ns</text>
<text transform="translate(1627.40 539.35) scale(1.025 1)" font-size="25.5" text-anchor="end">1</text>
<text transform="translate(1697.70 579.25)" font-size="25.5" text-anchor="middle" fill="#fff"><tspan font-style="italic">P</tspan>=2.9E−4</text>
<text transform="translate(1827.70 579.25)" font-size="25.5" text-anchor="middle" fill="#fff"><tspan font-style="italic">P</tspan>&lt;1E−4</text>
<text transform="translate(1956.90 579.25) scale(1.025 1)" font-size="25.5" text-anchor="middle">ns</text>
<text transform="translate(1627.40 579.25) scale(1.025 1)" font-size="25.5" text-anchor="end">2</text>
<text transform="translate(1697.70 618.55)" font-size="25.5" text-anchor="middle" fill="#fff"><tspan font-style="italic">P</tspan>&lt;1E−4</text>
<text transform="translate(1827.70 618.55)" font-size="25.5" text-anchor="middle" fill="#fff"><tspan font-style="italic">P</tspan>&lt;1E−4</text>
<text transform="translate(1957.70 618.55)" font-size="25.5" text-anchor="middle" fill="#fff"><tspan font-style="italic">P</tspan>=1.5E−4</text>
<text transform="translate(1627.40 618.55) scale(1.025 1)" font-size="25.5" text-anchor="end">5</text>
<text transform="translate(1697.70 657.85)" font-size="25.5" text-anchor="middle" fill="#fff"><tspan font-style="italic">P</tspan>&lt;1E−4</text>
<text transform="translate(1827.70 657.85)" font-size="25.5" text-anchor="middle" fill="#fff"><tspan font-style="italic">P</tspan>&lt;1E−4</text>
<text transform="translate(1957.70 657.85)" font-size="25.5" text-anchor="middle" fill="#fff"><tspan font-style="italic">P</tspan>&lt;1E−4</text>
<text transform="translate(1627.40 657.85) scale(1.025 1)" font-size="25.5" text-anchor="end">10</text>
<text transform="translate(1697.70 697.15)" font-size="25.5" text-anchor="middle" fill="#fff"><tspan font-style="italic">P</tspan>&lt;1E−4</text>
<text transform="translate(1827.70 697.15)" font-size="25.5" text-anchor="middle" fill="#fff"><tspan font-style="italic">P</tspan>&lt;1E−4</text>
<text transform="translate(1957.70 697.15)" font-size="25.5" text-anchor="middle" fill="#fff"><tspan font-style="italic">P</tspan>&lt;1E−4</text>
<text transform="translate(1627.40 697.15) scale(1.025 1)" font-size="25.5" text-anchor="end">KIF</text>
<polyline points="1597.60,510.30 1590.60,510.30 1590.60,667.50 1597.60,667.50" fill="none" stroke="#000" stroke-width="2.3"/>
<text transform="translate(1578.60 589.25) rotate(-90) scale(1.0065499999999998 1)" font-size="25.5" text-anchor="middle">S63845 (μM)</text>
<text transform="translate(1697.10 736.20) scale(1.025 1)" font-size="25.5" text-anchor="middle">1</text>
<text transform="translate(1827.10 736.20) scale(1.025 1)" font-size="25.5" text-anchor="middle">2</text>
<text transform="translate(1957.10 736.20) scale(1.025 1)" font-size="25.5" text-anchor="middle">3</text>
<text transform="translate(1827.90 769.90) scale(1.025 1)" font-size="25.5" text-anchor="middle">E:T ratio</text>
<text transform="translate(1525.90 865.30) scale(1.0251 1)" font-size="29.7" text-anchor="middle">HER2 CAR T : CCLF_PANC_0014_T patient pancreatic tumor</text>
<line x1="1117.70" y1="916.00" x2="1117.70" y2="1113.80" stroke="#000" stroke-width="2.4"/>
<line x1="1110.00" y1="1112.60" x2="1313.10" y2="1112.60" stroke="#000" stroke-width="2.4"/>
<line x1="1110.00" y1="917.20" x2="1117.70" y2="917.20" stroke="#000" stroke-width="2.4"/>
<line x1="1110.00" y1="956.28" x2="1117.70" y2="956.28" stroke="#000" stroke-width="2.4"/>
<line x1="1110.00" y1="995.36" x2="1117.70" y2="995.36" stroke="#000" stroke-width="2.4"/>
<line x1="1110.00" y1="1034.44" x2="1117.70" y2="1034.44" stroke="#000" stroke-width="2.4"/>
<line x1="1110.00" y1="1073.52" x2="1117.70" y2="1073.52" stroke="#000" stroke-width="2.4"/>
<line x1="1143.50" y1="1112.60" x2="1143.50" y2="1120.20" stroke="#000" stroke-width="2.4"/>
<line x1="1215.20" y1="1112.60" x2="1215.20" y2="1120.20" stroke="#000" stroke-width="2.4"/>
<line x1="1287.00" y1="1112.60" x2="1287.00" y2="1120.20" stroke="#000" stroke-width="2.4"/>
<text transform="translate(1106.50 925.90) scale(1.025 1)" font-size="25.5" text-anchor="end">50</text>
<text transform="translate(1106.50 964.98) scale(1.025 1)" font-size="25.5" text-anchor="end">40</text>
<text transform="translate(1106.50 1004.06) scale(1.025 1)" font-size="25.5" text-anchor="end">30</text>
<text transform="translate(1106.50 1043.14) scale(1.025 1)" font-size="25.5" text-anchor="end">20</text>
<text transform="translate(1106.50 1082.22) scale(1.025 1)" font-size="25.5" text-anchor="end">10</text>
<text transform="translate(1106.50 1121.30) scale(1.025 1)" font-size="25.5" text-anchor="end">0</text>
<text transform="translate(1143.50 1143.00) scale(1.025 1)" font-size="25.5" text-anchor="middle">1</text>
<text transform="translate(1215.20 1143.00) scale(1.025 1)" font-size="25.5" text-anchor="middle">2</text>
<text transform="translate(1287.00 1143.00) scale(1.025 1)" font-size="25.5" text-anchor="middle">3</text>
<line x1="1333.80" y1="916.00" x2="1333.80" y2="1113.80" stroke="#000" stroke-width="2.4"/>
<line x1="1326.10" y1="1112.60" x2="1529.20" y2="1112.60" stroke="#000" stroke-width="2.4"/>
<line x1="1326.10" y1="917.20" x2="1333.80" y2="917.20" stroke="#000" stroke-width="2.4"/>
<line x1="1326.10" y1="956.28" x2="1333.80" y2="956.28" stroke="#000" stroke-width="2.4"/>
<line x1="1326.10" y1="995.36" x2="1333.80" y2="995.36" stroke="#000" stroke-width="2.4"/>
<line x1="1326.10" y1="1034.44" x2="1333.80" y2="1034.44" stroke="#000" stroke-width="2.4"/>
<line x1="1326.10" y1="1073.52" x2="1333.80" y2="1073.52" stroke="#000" stroke-width="2.4"/>
<line x1="1359.60" y1="1112.60" x2="1359.60" y2="1120.20" stroke="#000" stroke-width="2.4"/>
<line x1="1431.30" y1="1112.60" x2="1431.30" y2="1120.20" stroke="#000" stroke-width="2.4"/>
<line x1="1503.10" y1="1112.60" x2="1503.10" y2="1120.20" stroke="#000" stroke-width="2.4"/>
<text transform="translate(1359.60 1143.00) scale(1.025 1)" font-size="25.5" text-anchor="middle">1</text>
<text transform="translate(1431.30 1143.00) scale(1.025 1)" font-size="25.5" text-anchor="middle">2</text>
<text transform="translate(1503.10 1143.00) scale(1.025 1)" font-size="25.5" text-anchor="middle">3</text>
<text transform="translate(1049.70 1011.70) rotate(-90) scale(1.025 1)" font-size="25.5" text-anchor="middle">percent survival</text>
<text transform="translate(1215.70 906.40) scale(1.025 1)" font-size="25.5" text-anchor="middle">S63845 (μM)</text>
<text transform="translate(1431.80 906.40) scale(1.025 1)" font-size="25.5" text-anchor="middle">KIF (mg/mL)</text>
<text transform="translate(1215.70 1176.40) scale(1.025 1)" font-size="25.5" text-anchor="middle">E:T ratio</text>
<text transform="translate(1431.80 1176.40) scale(1.025 1)" font-size="25.5" text-anchor="middle">E:T ratio</text>
<path d="M1139.80 966.00H1147.20M1143.50 966.00V984.40M1139.80 984.40H1147.20" fill="none" stroke="#939598" stroke-width="2.1"/>
<path d="M1211.50 1029.30H1218.90M1215.20 1029.30V1039.30M1211.50 1039.30H1218.90" fill="none" stroke="#939598" stroke-width="2.1"/>
<path d="M1139.80 1012.60H1147.20M1143.50 1012.60V1029.60M1139.80 1029.60H1147.20" fill="none" stroke="#a6cee3" stroke-width="2.1"/>
<path d="M1211.50 1048.80H1218.90M1215.20 1048.80V1063.60M1211.50 1063.60H1218.90" fill="none" stroke="#a6cee3" stroke-width="2.1"/>
<path d="M1139.80 1029.80H1147.20M1143.50 1029.80V1035.80M1139.80 1035.80H1147.20" fill="none" stroke="#6aabd0" stroke-width="2.1"/>
<path d="M1139.80 1040.50H1147.20M1143.50 1040.50V1046.50M1139.80 1046.50H1147.20" fill="none" stroke="#1f78b4" stroke-width="2.1"/>
<path d="M1211.50 1072.70H1218.90M1215.20 1072.70V1078.70M1211.50 1078.70H1218.90" fill="none" stroke="#1f78b4" stroke-width="2.1"/>
<path d="M1139.80 1052.50H1147.20M1143.50 1052.50V1069.70M1139.80 1069.70H1147.20" fill="none" stroke="#0b3f68" stroke-width="2.1"/>
<path d="M1211.50 1081.50H1218.90M1215.20 1081.50V1089.50M1211.50 1089.50H1218.90" fill="none" stroke="#0b3f68" stroke-width="2.1"/>
<polyline points="1143.50,975.20 1215.20,1034.30 1287.00,1054.80" fill="none" stroke="#939598" stroke-width="2.2" stroke-linejoin="round"/>
<circle cx="1143.50" cy="975.20" r="4.8" fill="#939598"/>
<circle cx="1215.20" cy="1034.30" r="4.8" fill="#939598"/>
<circle cx="1287.00" cy="1054.80" r="4.8" fill="#939598"/>
<polyline points="1143.50,1021.10 1215.20,1056.20 1287.00,1080.60" fill="none" stroke="#a6cee3" stroke-width="2.2" stroke-linejoin="round"/>
<circle cx="1143.50" cy="1021.10" r="4.8" fill="#a6cee3"/>
<circle cx="1215.20" cy="1056.20" r="4.8" fill="#a6cee3"/>
<circle cx="1287.00" cy="1080.60" r="4.8" fill="#a6cee3"/>
<polyline points="1143.50,1032.80 1215.20,1071.80 1287.00,1087.40" fill="none" stroke="#6aabd0" stroke-width="2.2" stroke-linejoin="round"/>
<circle cx="1143.50" cy="1032.80" r="4.8" fill="#6aabd0"/>
<circle cx="1215.20" cy="1071.80" r="4.8" fill="#6aabd0"/>
<circle cx="1287.00" cy="1087.40" r="4.8" fill="#6aabd0"/>
<polyline points="1143.50,1043.50 1215.20,1075.70 1287.00,1091.30" fill="none" stroke="#1f78b4" stroke-width="2.2" stroke-linejoin="round"/>
<circle cx="1143.50" cy="1043.50" r="4.8" fill="#1f78b4"/>
<circle cx="1215.20" cy="1075.70" r="4.8" fill="#1f78b4"/>
<circle cx="1287.00" cy="1091.30" r="4.8" fill="#1f78b4"/>
<polyline points="1143.50,1061.10 1215.20,1085.50 1287.00,1094.30" fill="none" stroke="#0b3f68" stroke-width="2.2" stroke-linejoin="round"/>
<circle cx="1143.50" cy="1061.10" r="4.8" fill="#0b3f68"/>
<circle cx="1215.20" cy="1085.50" r="4.8" fill="#0b3f68"/>
<circle cx="1287.00" cy="1094.30" r="4.8" fill="#0b3f68"/>
<path d="M1355.35 966.30H1363.85M1359.60 966.30V984.70M1355.35 984.70H1363.85" fill="none" stroke="#939598" stroke-width="2.1"/>
<path d="M1427.05 1028.50H1435.55M1431.30 1028.50V1039.10M1427.05 1039.10H1435.55" fill="none" stroke="#939598" stroke-width="2.1"/>
<path d="M1355.35 1013.70H1363.85M1359.60 1013.70V1022.10M1355.35 1022.10H1363.85" fill="none" stroke="#1f78b4" stroke-width="2.1"/>
<path d="M1427.05 1048.10H1435.55M1431.30 1048.10V1055.70M1427.05 1055.70H1435.55" fill="none" stroke="#1f78b4" stroke-width="2.1"/>
<path d="M1498.85 1064.60H1507.35M1503.10 1064.60V1071.00M1498.85 1071.00H1507.35" fill="none" stroke="#1f78b4" stroke-width="2.1"/>
<polyline points="1359.60,975.50 1431.30,1033.80 1503.10,1054.60" fill="none" stroke="#939598" stroke-width="2.2" stroke-linejoin="round"/>
<circle cx="1359.60" cy="975.50" r="4.8" fill="#939598"/>
<circle cx="1431.30" cy="1033.80" r="4.8" fill="#939598"/>
<circle cx="1503.10" cy="1054.60" r="4.8" fill="#939598"/>
<polyline points="1359.60,1017.90 1431.30,1051.90 1503.10,1067.80" fill="none" stroke="#1f78b4" stroke-width="2.2" stroke-linejoin="round"/>
<circle cx="1359.60" cy="1017.90" r="4.8" fill="#1f78b4"/>
<circle cx="1431.30" cy="1051.90" r="4.8" fill="#1f78b4"/>
<circle cx="1503.10" cy="1067.80" r="4.8" fill="#1f78b4"/>
<line x1="1207.00" y1="928.90" x2="1225.40" y2="928.90" stroke="#939598" stroke-width="2.2"/>
<circle cx="1216.20" cy="928.90" r="4.8" fill="#939598"/>
<text transform="translate(1228.50 937.70) scale(1.025 1)" font-size="25.5">0</text>
<line x1="1207.00" y1="953.60" x2="1225.40" y2="953.60" stroke="#a6cee3" stroke-width="2.2"/>
<circle cx="1216.20" cy="953.60" r="4.8" fill="#a6cee3"/>
<text transform="translate(1228.50 962.80) scale(1.025 1)" font-size="25.5">1</text>
<line x1="1263.40" y1="928.90" x2="1281.80" y2="928.90" stroke="#6aabd0" stroke-width="2.2"/>
<circle cx="1272.60" cy="928.90" r="4.8" fill="#6aabd0"/>
<text transform="translate(1284.00 937.70) scale(1.025 1)" font-size="25.5">2</text>
<line x1="1263.40" y1="953.60" x2="1281.80" y2="953.60" stroke="#1f78b4" stroke-width="2.2"/>
<circle cx="1272.60" cy="953.60" r="4.8" fill="#1f78b4"/>
<text transform="translate(1284.00 962.80) scale(1.025 1)" font-size="25.5">5</text>
<line x1="1263.40" y1="978.90" x2="1281.80" y2="978.90" stroke="#0b3f68" stroke-width="2.2"/>
<circle cx="1272.60" cy="978.90" r="4.8" fill="#0b3f68"/>
<text transform="translate(1284.00 988.60) scale(1.025 1)" font-size="25.5">10</text>
<line x1="1479.10" y1="929.10" x2="1497.50" y2="929.10" stroke="#939598" stroke-width="2.2"/>
<circle cx="1488.30" cy="929.10" r="4.8" fill="#939598"/>
<text transform="translate(1501.00 937.60) scale(1.025 1)" font-size="25.5">0</text>
<line x1="1479.10" y1="953.60" x2="1497.50" y2="953.60" stroke="#1f78b4" stroke-width="2.2"/>
<circle cx="1488.30" cy="953.60" r="4.8" fill="#1f78b4"/>
<text transform="translate(1501.00 962.80) scale(1.025 1)" font-size="25.5">20</text>
<path d="M1632.0 916.4H1762.0V955.78H1632.0ZM1892.0 1073.92H2022.0V1113.3H1892.0Z" fill="#6aabd0"/>
<path d="M1762.0 916.4H1892.0V955.78H1762.0ZM1762.0 1073.92H1892.0V1113.3H1762.0Z" fill="#a6cee3"/>
<path d="M1892.0 916.4H2022.0V955.78H1892.0ZM1632.0 955.78H1762.0V995.16H1632.0ZM1762.0 955.78H1892.0V995.16H1762.0ZM1892.0 955.78H2022.0V995.16H1892.0ZM1632.0 995.16H1762.0V1034.54H1632.0ZM1762.0 995.16H1892.0V1034.54H1762.0ZM1892.0 995.16H2022.0V1034.54H1892.0ZM1632.0 1034.54H1762.0V1073.92H1632.0ZM1762.0 1034.54H1892.0V1073.92H1762.0ZM1892.0 1034.54H2022.0V1073.92H1892.0Z" fill="#0b3f68"/>
<path d="M1632.0 1073.92H1762.0V1113.3H1632.0Z" fill="#1f78b4"/>
<text transform="translate(1697.60 945.79)" font-size="25.5" text-anchor="middle"><tspan font-style="italic">P</tspan>=2.3E−3</text>
<text transform="translate(1827.60 945.79)" font-size="25.5" text-anchor="middle"><tspan font-style="italic">P</tspan>=2.9E−2</text>
<text transform="translate(1957.60 945.79)" font-size="25.5" text-anchor="middle" fill="#fff"><tspan font-style="italic">P</tspan>&lt;1E−4</text>
<text transform="translate(1627.40 945.79) scale(1.025 1)" font-size="25.5" text-anchor="end">1</text>
<text transform="translate(1697.60 985.77)" font-size="25.5" text-anchor="middle" fill="#fff"><tspan font-style="italic">P</tspan>&lt;1E−4</text>
<text transform="translate(1827.60 985.77)" font-size="25.5" text-anchor="middle" fill="#fff"><tspan font-style="italic">P</tspan>&lt;1E−4</text>
<text transform="translate(1957.60 985.77)" font-size="25.5" text-anchor="middle" fill="#fff"><tspan font-style="italic">P</tspan>&lt;1E−4</text>
<text transform="translate(1627.40 985.77) scale(1.025 1)" font-size="25.5" text-anchor="end">2</text>
<text transform="translate(1697.60 1025.15)" font-size="25.5" text-anchor="middle" fill="#fff"><tspan font-style="italic">P</tspan>&lt;1E−4</text>
<text transform="translate(1827.60 1025.15)" font-size="25.5" text-anchor="middle" fill="#fff"><tspan font-style="italic">P</tspan>&lt;1E−4</text>
<text transform="translate(1957.60 1025.15)" font-size="25.5" text-anchor="middle" fill="#fff"><tspan font-style="italic">P</tspan>&lt;1E−4</text>
<text transform="translate(1627.40 1025.15) scale(1.025 1)" font-size="25.5" text-anchor="end">5</text>
<text transform="translate(1697.60 1064.53)" font-size="25.5" text-anchor="middle" fill="#fff"><tspan font-style="italic">P</tspan>&lt;1E−4</text>
<text transform="translate(1827.60 1064.53)" font-size="25.5" text-anchor="middle" fill="#fff"><tspan font-style="italic">P</tspan>&lt;1E−4</text>
<text transform="translate(1957.60 1064.53)" font-size="25.5" text-anchor="middle" fill="#fff"><tspan font-style="italic">P</tspan>&lt;1E−4</text>
<text transform="translate(1627.40 1064.53) scale(1.025 1)" font-size="25.5" text-anchor="end">10</text>
<text transform="translate(1697.60 1103.91)" font-size="25.5" text-anchor="middle" fill="#fff"><tspan font-style="italic">P</tspan>=7.7E−4</text>
<text transform="translate(1827.60 1103.91)" font-size="25.5" text-anchor="middle"><tspan font-style="italic">P</tspan>=1.4E−2</text>
<text transform="translate(1957.60 1103.91)" font-size="25.5" text-anchor="middle"><tspan font-style="italic">P</tspan>=9.5E−3</text>
<text transform="translate(1627.40 1103.91) scale(1.025 1)" font-size="25.5" text-anchor="end">KIF</text>
<polyline points="1597.60,916.70 1590.60,916.70 1590.60,1074.22 1597.60,1074.22" fill="none" stroke="#000" stroke-width="2.3"/>
<text transform="translate(1578.60 995.81) rotate(-90) scale(1.0065499999999998 1)" font-size="25.5" text-anchor="middle">S63845 (μM)</text>
<text transform="translate(1697.00 1143.30) scale(1.025 1)" font-size="25.5" text-anchor="middle">1</text>
<text transform="translate(1827.00 1143.30) scale(1.025 1)" font-size="25.5" text-anchor="middle">2</text>
<text transform="translate(1957.00 1143.30) scale(1.025 1)" font-size="25.5" text-anchor="middle">3</text>
<text transform="translate(1827.80 1176.70) scale(1.025 1)" font-size="25.5" text-anchor="middle">E:T ratio</text>
<text transform="translate(508.00 865.30) scale(1.0251 1)" font-size="29.7" text-anchor="middle">AXL CAR T : CCLF_MELM_0011_T patient melanoma</text>
<line x1="80.60" y1="916.00" x2="80.60" y2="1113.80" stroke="#000" stroke-width="2.4"/>
<line x1="72.90" y1="1112.60" x2="276.00" y2="1112.60" stroke="#000" stroke-width="2.4"/>
<line x1="72.90" y1="917.20" x2="80.60" y2="917.20" stroke="#000" stroke-width="2.4"/>
<line x1="72.90" y1="956.28" x2="80.60" y2="956.28" stroke="#000" stroke-width="2.4"/>
<line x1="72.90" y1="995.36" x2="80.60" y2="995.36" stroke="#000" stroke-width="2.4"/>
<line x1="72.90" y1="1034.44" x2="80.60" y2="1034.44" stroke="#000" stroke-width="2.4"/>
<line x1="72.90" y1="1073.52" x2="80.60" y2="1073.52" stroke="#000" stroke-width="2.4"/>
<line x1="106.40" y1="1112.60" x2="106.40" y2="1120.20" stroke="#000" stroke-width="2.4"/>
<line x1="178.10" y1="1112.60" x2="178.10" y2="1120.20" stroke="#000" stroke-width="2.4"/>
<line x1="249.90" y1="1112.60" x2="249.90" y2="1120.20" stroke="#000" stroke-width="2.4"/>
<text transform="translate(69.40 925.90) scale(1.025 1)" font-size="25.5" text-anchor="end">50</text>
<text transform="translate(69.40 964.98) scale(1.025 1)" font-size="25.5" text-anchor="end">40</text>
<text transform="translate(69.40 1004.06) scale(1.025 1)" font-size="25.5" text-anchor="end">30</text>
<text transform="translate(69.40 1043.14) scale(1.025 1)" font-size="25.5" text-anchor="end">20</text>
<text transform="translate(69.40 1082.22) scale(1.025 1)" font-size="25.5" text-anchor="end">10</text>
<text transform="translate(69.40 1121.30) scale(1.025 1)" font-size="25.5" text-anchor="end">0</text>
<text transform="translate(106.40 1143.00) scale(1.025 1)" font-size="25.5" text-anchor="middle">1</text>
<text transform="translate(178.10 1143.00) scale(1.025 1)" font-size="25.5" text-anchor="middle">2</text>
<text transform="translate(249.90 1143.00) scale(1.025 1)" font-size="25.5" text-anchor="middle">3</text>
<line x1="298.00" y1="916.00" x2="298.00" y2="1113.80" stroke="#000" stroke-width="2.4"/>
<line x1="290.30" y1="1112.60" x2="493.40" y2="1112.60" stroke="#000" stroke-width="2.4"/>
<line x1="290.30" y1="917.20" x2="298.00" y2="917.20" stroke="#000" stroke-width="2.4"/>
<line x1="290.30" y1="956.28" x2="298.00" y2="956.28" stroke="#000" stroke-width="2.4"/>
<line x1="290.30" y1="995.36" x2="298.00" y2="995.36" stroke="#000" stroke-width="2.4"/>
<line x1="290.30" y1="1034.44" x2="298.00" y2="1034.44" stroke="#000" stroke-width="2.4"/>
<line x1="290.30" y1="1073.52" x2="298.00" y2="1073.52" stroke="#000" stroke-width="2.4"/>
<line x1="323.80" y1="1112.60" x2="323.80" y2="1120.20" stroke="#000" stroke-width="2.4"/>
<line x1="395.50" y1="1112.60" x2="395.50" y2="1120.20" stroke="#000" stroke-width="2.4"/>
<line x1="467.30" y1="1112.60" x2="467.30" y2="1120.20" stroke="#000" stroke-width="2.4"/>
<text transform="translate(323.80 1143.00) scale(1.025 1)" font-size="25.5" text-anchor="middle">1</text>
<text transform="translate(395.50 1143.00) scale(1.025 1)" font-size="25.5" text-anchor="middle">2</text>
<text transform="translate(467.30 1143.00) scale(1.025 1)" font-size="25.5" text-anchor="middle">3</text>
<text transform="translate(19.30 1011.70) rotate(-90) scale(1.025 1)" font-size="25.5" text-anchor="middle">percent survival</text>
<text transform="translate(178.60 906.40) scale(1.025 1)" font-size="25.5" text-anchor="middle">S63845 (μM)</text>
<text transform="translate(396.00 906.40) scale(1.025 1)" font-size="25.5" text-anchor="middle">KIF (mg/mL)</text>
<text transform="translate(178.60 1176.40) scale(1.025 1)" font-size="25.5" text-anchor="middle">E:T ratio</text>
<text transform="translate(396.00 1176.40) scale(1.025 1)" font-size="25.5" text-anchor="middle">E:T ratio</text>
<path d="M102.70 977.90H110.10M106.40 977.90V991.90M102.70 991.90H110.10" fill="none" stroke="#939598" stroke-width="2.1"/>
<path d="M174.40 1010.10H181.80M178.10 1010.10V1033.90M174.40 1033.90H181.80" fill="none" stroke="#939598" stroke-width="2.1"/>
<path d="M246.20 1013.20H253.60M249.90 1013.20V1042.60M246.20 1042.60H253.60" fill="none" stroke="#939598" stroke-width="2.1"/>
<path d="M174.40 1086.30H181.80M178.10 1086.30V1093.30M174.40 1093.30H181.80" fill="none" stroke="#a6cee3" stroke-width="2.1"/>
<path d="M174.40 1091.30H181.80M178.10 1091.30V1097.30M174.40 1097.30H181.80" fill="none" stroke="#6aabd0" stroke-width="2.1"/>
<path d="M102.70 1079.90H110.10M106.40 1079.90V1087.90M102.70 1087.90H110.10" fill="none" stroke="#1f78b4" stroke-width="2.1"/>
<path d="M174.40 1088.30H181.80M178.10 1088.30V1096.30M174.40 1096.30H181.80" fill="none" stroke="#1f78b4" stroke-width="2.1"/>
<path d="M246.20 1090.30H253.60M249.90 1090.30V1098.30M246.20 1098.30H253.60" fill="none" stroke="#1f78b4" stroke-width="2.1"/>
<polyline points="106.40,984.90 178.10,1022.00 249.90,1027.90" fill="none" stroke="#939598" stroke-width="2.2" stroke-linejoin="round"/>
<circle cx="106.40" cy="984.90" r="4.8" fill="#939598"/>
<circle cx="178.10" cy="1022.00" r="4.8" fill="#939598"/>
<circle cx="249.90" cy="1027.90" r="4.8" fill="#939598"/>
<polyline points="106.40,1065.60 178.10,1089.80 249.90,1097.00" fill="none" stroke="#a6cee3" stroke-width="2.2" stroke-linejoin="round"/>
<circle cx="106.40" cy="1065.60" r="4.8" fill="#a6cee3"/>
<circle cx="178.10" cy="1089.80" r="4.8" fill="#a6cee3"/>
<circle cx="249.90" cy="1097.00" r="4.8" fill="#a6cee3"/>
<polyline points="106.40,1072.20 178.10,1094.30 249.90,1101.10" fill="none" stroke="#6aabd0" stroke-width="2.2" stroke-linejoin="round"/>
<circle cx="106.40" cy="1072.20" r="4.8" fill="#6aabd0"/>
<circle cx="178.10" cy="1094.30" r="4.8" fill="#6aabd0"/>
<circle cx="249.90" cy="1101.10" r="4.8" fill="#6aabd0"/>
<polyline points="106.40,1083.90 178.10,1092.30 249.90,1094.30" fill="none" stroke="#1f78b4" stroke-width="2.2" stroke-linejoin="round"/>
<circle cx="106.40" cy="1083.90" r="4.8" fill="#1f78b4"/>
<circle cx="178.10" cy="1092.30" r="4.8" fill="#1f78b4"/>
<circle cx="249.90" cy="1094.30" r="4.8" fill="#1f78b4"/>
<path d="M320.10 977.90H327.50M323.80 977.90V991.30M320.10 991.30H327.50" fill="none" stroke="#939598" stroke-width="2.1"/>
<path d="M391.80 1009.80H399.20M395.50 1009.80V1033.60M391.80 1033.60H399.20" fill="none" stroke="#939598" stroke-width="2.1"/>
<path d="M463.60 1012.90H471.00M467.30 1012.90V1042.10M463.60 1042.10H471.00" fill="none" stroke="#939598" stroke-width="2.1"/>
<path d="M319.05 1010.70H328.55M323.80 1010.70V1025.10M319.05 1025.10H328.55" fill="none" stroke="#1f78b4" stroke-width="2.1"/>
<path d="M390.75 1049.30H400.25M395.50 1049.30V1062.10M390.75 1062.10H400.25" fill="none" stroke="#1f78b4" stroke-width="2.1"/>
<path d="M462.55 1057.10H472.05M467.30 1057.10V1072.90M462.55 1072.90H472.05" fill="none" stroke="#1f78b4" stroke-width="2.1"/>
<polyline points="323.80,984.60 395.50,1021.70 467.30,1027.50" fill="none" stroke="#939598" stroke-width="2.2" stroke-linejoin="round"/>
<circle cx="323.80" cy="984.60" r="4.8" fill="#939598"/>
<circle cx="395.50" cy="1021.70" r="4.8" fill="#939598"/>
<circle cx="467.30" cy="1027.50" r="4.8" fill="#939598"/>
<polyline points="323.80,1017.90 395.50,1055.70 467.30,1065.00" fill="none" stroke="#1f78b4" stroke-width="2.2" stroke-linejoin="round"/>
<circle cx="323.80" cy="1017.90" r="4.8" fill="#1f78b4"/>
<circle cx="395.50" cy="1055.70" r="4.8" fill="#1f78b4"/>
<circle cx="467.30" cy="1065.00" r="4.8" fill="#1f78b4"/>
<line x1="172.40" y1="928.90" x2="190.80" y2="928.90" stroke="#939598" stroke-width="2.2"/>
<circle cx="181.60" cy="928.90" r="4.8" fill="#939598"/>
<text transform="translate(194.10 937.70) scale(1.025 1)" font-size="25.5">0</text>
<line x1="172.40" y1="953.60" x2="190.80" y2="953.60" stroke="#a6cee3" stroke-width="2.2"/>
<circle cx="181.60" cy="953.60" r="4.8" fill="#a6cee3"/>
<text transform="translate(194.10 962.80) scale(1.025 1)" font-size="25.5">1</text>
<line x1="229.00" y1="928.90" x2="247.40" y2="928.90" stroke="#6aabd0" stroke-width="2.2"/>
<circle cx="238.20" cy="928.90" r="4.8" fill="#6aabd0"/>
<text transform="translate(249.80 937.70) scale(1.025 1)" font-size="25.5">2</text>
<line x1="229.00" y1="953.60" x2="247.40" y2="953.60" stroke="#1f78b4" stroke-width="2.2"/>
<circle cx="238.20" cy="953.60" r="4.8" fill="#1f78b4"/>
<text transform="translate(249.80 962.80) scale(1.025 1)" font-size="25.5">5</text>
<line x1="444.80" y1="929.10" x2="463.20" y2="929.10" stroke="#939598" stroke-width="2.2"/>
<circle cx="454.00" cy="929.10" r="4.8" fill="#939598"/>
<text transform="translate(466.80 937.60) scale(1.025 1)" font-size="25.5">0</text>
<line x1="444.80" y1="953.60" x2="463.20" y2="953.60" stroke="#1f78b4" stroke-width="2.2"/>
<circle cx="454.00" cy="953.60" r="4.8" fill="#1f78b4"/>
<text transform="translate(466.80 962.80) scale(1.025 1)" font-size="25.5">20</text>
<path d="M593.1 916.4H723.1V965.6H593.1ZM723.1 916.4H853.1V965.6H723.1ZM593.1 965.6H723.1V1014.8H593.1ZM723.1 965.6H853.1V1014.8H723.1ZM593.1 1014.8H723.1V1064.0H593.1ZM723.1 1014.8H853.1V1064.0H723.1Z" fill="#0b3f68"/>
<path d="M853.1 916.4H983.1V965.6H853.1ZM853.1 965.6H983.1V1014.8H853.1ZM853.1 1014.8H983.1V1064.0H853.1Z" fill="#1f78b4"/>
<path d="M593.1 1064.0H723.1V1112.9H593.1Z" fill="#6aabd0"/>
<path d="M723.1 1064.0H853.1V1112.9H723.1ZM853.1 1064.0H983.1V1112.9H853.1Z" fill="#a6cee3"/>
<text transform="translate(658.70 948.00)" font-size="25.5" text-anchor="middle" fill="#fff"><tspan font-style="italic">P</tspan>&lt;1E−4</text>
<text transform="translate(788.70 948.00)" font-size="25.5" text-anchor="middle" fill="#fff"><tspan font-style="italic">P</tspan>&lt;1E−4</text>
<text transform="translate(918.70 948.00)" font-size="25.5" text-anchor="middle" fill="#fff"><tspan font-style="italic">P</tspan>=4.6E−4</text>
<text transform="translate(587.60 948.00) scale(1.025 1)" font-size="25.5" text-anchor="end">1</text>
<text transform="translate(658.70 997.70)" font-size="25.5" text-anchor="middle" fill="#fff"><tspan font-style="italic">P</tspan>&lt;1E−4</text>
<text transform="translate(788.70 997.70)" font-size="25.5" text-anchor="middle" fill="#fff"><tspan font-style="italic">P</tspan>&lt;1E−4</text>
<text transform="translate(918.70 997.70)" font-size="25.5" text-anchor="middle" fill="#fff"><tspan font-style="italic">P</tspan>=1.9E−4</text>
<text transform="translate(587.60 997.70) scale(1.025 1)" font-size="25.5" text-anchor="end">2</text>
<text transform="translate(658.70 1048.00)" font-size="25.5" text-anchor="middle" fill="#fff"><tspan font-style="italic">P</tspan>&lt;1E−4</text>
<text transform="translate(788.70 1048.00)" font-size="25.5" text-anchor="middle" fill="#fff"><tspan font-style="italic">P</tspan>&lt;1E−4</text>
<text transform="translate(918.70 1048.00)" font-size="25.5" text-anchor="middle" fill="#fff"><tspan font-style="italic">P</tspan>=6.2E−4</text>
<text transform="translate(587.60 1048.00) scale(1.025 1)" font-size="25.5" text-anchor="end">5</text>
<text transform="translate(658.70 1098.00)" font-size="25.5" text-anchor="middle"><tspan font-style="italic">P</tspan>=3.8E−3</text>
<text transform="translate(788.70 1098.00)" font-size="25.5" text-anchor="middle"><tspan font-style="italic">P</tspan>=2.3E−2</text>
<text transform="translate(918.70 1098.00)" font-size="25.5" text-anchor="middle"><tspan font-style="italic">P</tspan>=4.1E−2</text>
<text transform="translate(587.60 1098.00) scale(1.025 1)" font-size="25.5" text-anchor="end">KIF</text>
<polyline points="566.50,916.70 559.50,916.70 559.50,1064.30 566.50,1064.30" fill="none" stroke="#000" stroke-width="2.3"/>
<text transform="translate(548.30 990.85) rotate(-90) scale(1.0065499999999998 1)" font-size="25.5" text-anchor="middle">S63845 (μM)</text>
<text transform="translate(658.10 1142.90) scale(1.025 1)" font-size="25.5" text-anchor="middle">1</text>
<text transform="translate(788.10 1142.90) scale(1.025 1)" font-size="25.5" text-anchor="middle">2</text>
<text transform="translate(918.10 1142.90) scale(1.025 1)" font-size="25.5" text-anchor="middle">3</text>
<text transform="translate(788.90 1176.30) scale(1.025 1)" font-size="25.5" text-anchor="middle">E:T ratio</text>
</svg>
</body>
</html>
